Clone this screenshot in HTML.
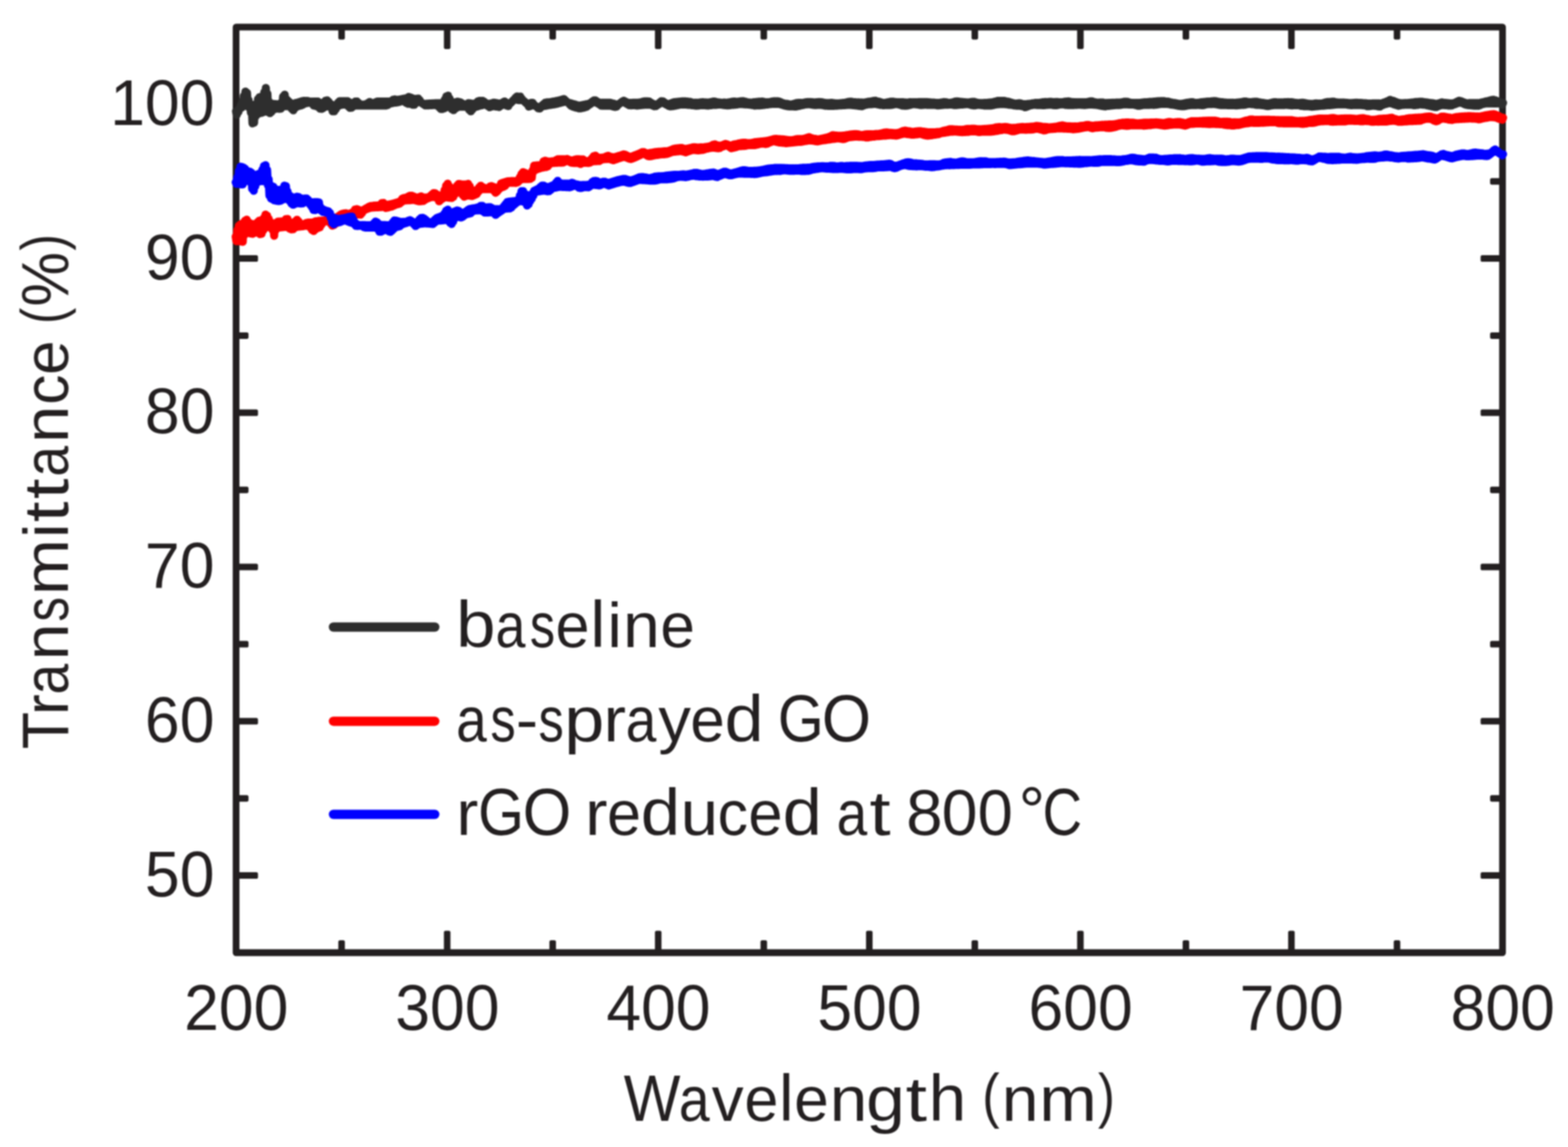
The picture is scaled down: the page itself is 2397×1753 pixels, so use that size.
<!DOCTYPE html>
<html lang="en"><head><meta charset="utf-8">
<title>Transmittance vs wavelength</title>
<style>
html,body{margin:0;padding:0;background:#fff;}
body{width:2397px;height:1753px;overflow:hidden;}
svg{display:block;}
#chart{filter:blur(0.9px);}
text{font-family:"Liberation Sans", sans-serif;font-size:101px;fill:#231f20;white-space:pre;}
</style></head><body>
<svg width="2397" height="1753" viewBox="0 0 2397 1753" role="img" aria-label="Transmittance (%) versus wavelength (nm) for baseline, as-sprayed GO and rGO reduced at 800 °C">
<rect width="2397" height="1753" fill="#fff"/>
<g id="chart">
<g id="ticks" fill="#231f20">
<rect x="517.2" y="41.4" width="10.0" height="19.0" rx="2.6"/>
<rect x="517.2" y="1437.0" width="10.0" height="19.0" rx="2.6"/>
<rect x="678.6" y="41.4" width="10.0" height="33.5" rx="2.6"/>
<rect x="678.6" y="1422.5" width="10.0" height="33.5" rx="2.6"/>
<rect x="839.9" y="41.4" width="10.0" height="19.0" rx="2.6"/>
<rect x="839.9" y="1437.0" width="10.0" height="19.0" rx="2.6"/>
<rect x="1001.2" y="41.4" width="10.0" height="33.5" rx="2.6"/>
<rect x="1001.2" y="1422.5" width="10.0" height="33.5" rx="2.6"/>
<rect x="1162.6" y="41.4" width="10.0" height="19.0" rx="2.6"/>
<rect x="1162.6" y="1437.0" width="10.0" height="19.0" rx="2.6"/>
<rect x="1323.9" y="41.4" width="10.0" height="33.5" rx="2.6"/>
<rect x="1323.9" y="1422.5" width="10.0" height="33.5" rx="2.6"/>
<rect x="1485.2" y="41.4" width="10.0" height="19.0" rx="2.6"/>
<rect x="1485.2" y="1437.0" width="10.0" height="19.0" rx="2.6"/>
<rect x="1646.6" y="41.4" width="10.0" height="33.5" rx="2.6"/>
<rect x="1646.6" y="1422.5" width="10.0" height="33.5" rx="2.6"/>
<rect x="1807.9" y="41.4" width="10.0" height="19.0" rx="2.6"/>
<rect x="1807.9" y="1437.0" width="10.0" height="19.0" rx="2.6"/>
<rect x="1969.2" y="41.4" width="10.0" height="33.5" rx="2.6"/>
<rect x="1969.2" y="1422.5" width="10.0" height="33.5" rx="2.6"/>
<rect x="2130.6" y="41.4" width="10.0" height="19.0" rx="2.6"/>
<rect x="2130.6" y="1437.0" width="10.0" height="19.0" rx="2.6"/>
<rect x="360.9" y="1333.1" width="33.5" height="10.0" rx="2.6"/>
<rect x="2263.4" y="1333.1" width="33.5" height="10.0" rx="2.6"/>
<rect x="360.9" y="1215.2" width="19.0" height="10.0" rx="2.6"/>
<rect x="2277.9" y="1215.2" width="19.0" height="10.0" rx="2.6"/>
<rect x="360.9" y="1097.3" width="33.5" height="10.0" rx="2.6"/>
<rect x="2263.4" y="1097.3" width="33.5" height="10.0" rx="2.6"/>
<rect x="360.9" y="979.5" width="19.0" height="10.0" rx="2.6"/>
<rect x="2277.9" y="979.5" width="19.0" height="10.0" rx="2.6"/>
<rect x="360.9" y="861.6" width="33.5" height="10.0" rx="2.6"/>
<rect x="2263.4" y="861.6" width="33.5" height="10.0" rx="2.6"/>
<rect x="360.9" y="743.7" width="19.0" height="10.0" rx="2.6"/>
<rect x="2277.9" y="743.7" width="19.0" height="10.0" rx="2.6"/>
<rect x="360.9" y="625.8" width="33.5" height="10.0" rx="2.6"/>
<rect x="2263.4" y="625.8" width="33.5" height="10.0" rx="2.6"/>
<rect x="360.9" y="507.9" width="19.0" height="10.0" rx="2.6"/>
<rect x="2277.9" y="507.9" width="19.0" height="10.0" rx="2.6"/>
<rect x="360.9" y="390.1" width="33.5" height="10.0" rx="2.6"/>
<rect x="2263.4" y="390.1" width="33.5" height="10.0" rx="2.6"/>
<rect x="360.9" y="272.2" width="19.0" height="10.0" rx="2.6"/>
<rect x="2277.9" y="272.2" width="19.0" height="10.0" rx="2.6"/>
<rect x="360.9" y="154.3" width="33.5" height="10.0" rx="2.6"/>
<rect x="2263.4" y="154.3" width="33.5" height="10.0" rx="2.6"/>
</g>
<rect id="frame" x="360.9" y="41.4" width="1936.0" height="1414.6" fill="none" stroke="#231f20" stroke-width="10.3" stroke-linejoin="round"/>
<g id="series" fill="none" stroke-width="12.4" stroke-linecap="round" stroke-linejoin="round">
<path id="s-baseline" stroke="#2e2e2e" d="M360.8 170.1L362.0 175.4L363.2 168.9L364.4 171.4L365.6 166.4L366.8 166.1L368.0 160.6L369.2 164.4L370.4 154.6L371.6 162.9L372.8 146.4L374.0 161.6L375.2 139.9L376.4 161.4L377.6 141.9L378.8 162.4L380.0 153.1L381.2 164.9L382.4 159.6L383.6 172.4L384.8 161.4L386.0 188.6L387.2 161.9L388.4 187.6L389.6 161.4L390.8 177.6L392.0 159.1L393.2 175.1L394.4 151.4L395.6 173.4L396.8 148.4L398.0 172.9L399.2 147.9L400.4 172.4L401.6 146.6L402.8 171.4L404.0 140.9L405.2 170.6L406.4 134.4L407.6 170.4L408.8 143.1L410.0 171.4L411.2 155.4L412.4 172.9L413.6 157.9L414.8 170.9L416.0 158.6L417.2 167.9L418.4 158.9L419.6 166.9L420.8 159.1L422.0 166.1L423.2 159.4L424.4 165.9L425.6 159.4L426.8 166.4L428.0 158.6L429.2 166.1L430.4 156.4L431.6 163.4L432.8 147.4L434.0 162.4L435.2 144.6L436.4 162.4L437.6 151.4L438.8 162.4L440.0 153.9L441.2 162.4L442.4 156.1L443.6 163.4L444.8 158.1L446.0 166.4L447.2 158.6L448.4 168.6L449.6 158.1L450.8 165.4L452.0 157.4L453.2 163.1L454.4 156.9L455.6 162.4L456.8 156.1L458.0 161.6L459.2 155.4L460.4 161.1L461.6 154.6L462.8 159.9L464.0 154.1L465.2 158.4L466.4 154.1L467.6 157.9L468.8 154.1L470.0 157.4L471.2 154.4L472.4 157.1L473.6 155.1L474.8 157.4L476.0 155.1L477.2 158.6L478.4 155.1L479.6 161.4L480.8 155.1L482.0 161.9L483.2 155.1L484.4 162.6L485.6 155.1L486.8 163.9L488.0 156.6L489.2 166.1L490.4 157.4L491.6 166.4L492.8 157.4L494.0 165.1L495.2 156.4L496.4 163.6L497.6 153.9L498.8 162.9L500.0 153.4L501.2 162.4L502.4 155.6L503.6 162.9L504.8 158.4L506.0 164.6L507.2 160.1L508.4 170.1L509.6 161.1L510.8 170.1L512.0 160.9L513.2 166.9L514.4 159.9L515.6 163.4L516.8 156.9L518.0 161.4L519.2 154.6L520.4 160.6L521.6 154.6L522.8 160.1L524.0 154.6L525.2 159.9L526.4 154.6L527.6 159.6L528.8 154.6L530.0 160.4L531.2 154.6L532.4 162.6L533.6 156.1L534.8 164.9L536.0 157.4L537.2 164.6L538.4 157.6L539.6 162.9L540.8 156.9L542.0 161.6L543.2 155.1L544.4 161.4L545.6 155.1L546.8 161.4L548.0 157.1L549.2 161.4L550.4 159.1L551.6 161.4L552.8 159.9L554.0 161.4L555.2 159.9L556.4 161.4L557.6 159.6L558.8 161.4L560.0 159.1L561.2 161.4L562.4 157.4L563.6 161.4L564.8 155.9L566.0 161.4L567.2 156.9L568.4 161.4L569.6 157.6L570.8 161.4L572.0 157.4L573.2 161.4L574.4 156.1L575.6 161.4L576.8 155.1L578.0 161.4L579.2 155.1L580.4 161.4L581.6 155.1L582.8 161.4L584.0 155.1L585.2 161.4L586.4 155.1L587.6 161.4L588.8 155.1L590.0 161.4L591.2 155.1L592.4 160.6L593.6 155.1L594.8 159.1L596.0 154.9L597.2 158.1L598.4 154.1L599.6 157.6L600.8 152.4L602.0 157.1L603.2 151.9L604.4 156.9L605.6 152.4L606.8 156.6L608.0 152.4L609.2 156.1L610.4 152.1L611.6 155.4L612.8 151.6L614.0 154.4L615.2 151.1L616.4 154.6L617.6 150.6L618.8 155.6L620.0 150.4L621.2 157.4L622.4 149.6L623.6 158.6L624.8 148.1L626.0 158.6L627.2 148.9L628.4 159.1L629.6 149.9L630.8 160.1L632.0 150.9L633.2 160.1L634.4 151.1L635.6 157.6L636.8 150.9L638.0 156.1L639.2 150.6L640.4 155.6L641.6 152.9L642.8 156.4L644.0 156.4L645.2 157.9L646.4 158.1L647.6 159.6L648.8 158.6L650.0 161.1L651.2 158.6L652.4 161.1L653.6 158.4L654.8 161.1L656.0 158.1L657.2 160.9L658.4 158.1L659.6 160.9L660.8 157.9L662.0 160.6L663.2 157.9L664.4 160.6L665.6 157.6L666.8 160.9L668.0 157.6L669.2 161.6L670.4 157.6L671.6 164.1L672.8 157.6L674.0 166.6L675.2 157.4L676.4 166.6L677.6 156.1L678.8 165.6L680.0 152.1L681.2 164.4L682.4 147.1L683.6 163.4L684.8 146.1L686.0 163.4L687.2 150.6L688.4 164.1L689.6 154.9L690.8 166.9L692.0 156.4L693.2 168.4L694.4 156.9L695.6 166.4L696.8 156.1L698.0 164.6L699.2 155.4L700.4 163.4L701.6 155.9L702.8 163.1L704.0 156.6L705.2 163.1L706.4 158.1L707.6 163.1L708.8 159.6L710.0 163.1L711.2 159.9L712.4 163.4L713.6 159.1L714.8 164.6L716.0 157.6L717.2 167.9L718.4 157.9L719.6 170.1L720.8 158.4L722.0 167.4L723.2 158.6L724.4 164.9L725.6 158.4L726.8 163.4L728.0 157.1L729.2 162.9L730.4 154.9L731.6 162.1L732.8 154.1L734.0 161.4L735.2 154.1L736.4 160.9L737.6 154.1L738.8 160.1L740.0 155.4L741.2 159.9L742.4 157.1L743.6 160.6L744.8 158.4L746.0 162.4L747.2 158.9L748.4 163.9L749.6 158.4L750.8 163.1L752.0 157.6L753.2 162.4L754.4 156.9L755.6 162.4L756.8 157.1L758.0 162.9L759.2 157.6L760.4 163.1L761.6 158.1L762.8 163.6L764.0 158.4L765.2 162.1L766.4 157.9L767.6 160.6L768.8 156.4L770.0 159.9L771.2 155.1L772.4 160.1L773.6 156.4L774.8 161.4L776.0 157.6L777.2 162.1L778.4 158.6L779.6 158.1L780.8 157.4L782.0 156.1L783.2 154.9L784.4 153.5L785.6 152.4L786.8 151.6L788.0 149.4L789.2 151.9L790.4 147.4L791.6 152.9L792.8 147.9L794.0 153.1L795.2 147.6L796.4 152.9L797.6 150.9L798.8 153.1L800.0 153.9L801.2 154.6L802.4 155.8L803.6 156.9L804.8 157.9L806.0 158.9L807.2 159.1L808.4 162.9L809.6 158.1L810.8 162.1L812.0 157.1L813.2 161.1L814.4 157.1L815.6 160.4L816.8 160.6L818.0 161.6L819.2 162.4L820.4 163.1L821.6 164.1L822.8 165.6L824.0 164.1L825.2 165.9L826.4 162.9L827.6 163.9L828.8 160.9L830.0 162.4L831.2 158.9L832.4 161.9L833.6 156.9L834.8 161.6L836.0 156.4L837.2 161.1L838.4 156.4L839.6 160.6L840.8 156.1L842.0 160.4L843.2 155.6L844.4 159.9L845.6 155.1L846.8 159.6L848.0 154.9L849.2 159.1L850.4 154.4L851.6 158.6L852.8 153.9L854.0 157.9L855.2 153.4L856.4 157.4L857.6 152.6L858.8 156.6L860.0 151.9L861.2 156.1L862.4 151.4L863.6 155.4L864.8 153.9L866.0 155.9L867.2 155.9L868.4 157.1L869.6 157.1L870.8 159.6L872.0 157.6L873.2 161.9L874.4 158.4L875.6 162.9L876.8 159.1L878.0 163.6L879.2 159.6L880.4 164.4L881.6 160.4L882.8 164.9L884.0 161.1L885.2 165.6L886.4 161.4L887.6 165.6L888.8 160.9L890.0 165.1L891.2 160.4L892.4 164.6L893.6 159.9L894.8 163.9L896.0 159.4L897.2 163.1L898.4 158.9L899.6 161.1L900.8 158.1L902.0 159.4L903.2 156.9L904.4 157.9L905.6 155.1L906.8 156.6L908.0 153.4L909.2 156.1L910.4 153.4L911.6 156.6L912.8 155.1L914.0 158.1L915.2 156.4L916.4 159.6L917.6 156.9L918.8 161.4L920.0 156.9L921.2 161.6L922.4 156.9L923.6 161.6L924.8 156.9L926.0 161.6L927.2 156.9L928.4 161.6L929.6 156.9L930.8 161.6L932.0 156.9L933.2 161.6L934.4 157.4L935.6 162.1L936.8 158.1L938.0 162.9L939.2 158.6L940.4 163.4L941.6 159.4L942.8 162.9L944.0 159.9L945.2 160.1L946.4 159.1L947.6 158.1L948.8 157.1L950.0 156.4L951.2 155.1L952.4 156.1L953.6 153.9L954.8 156.9L956.0 155.1L957.2 158.1L958.4 156.4L959.6 159.6L960.8 157.4L962.0 160.9L963.2 157.1L964.4 161.1L965.6 157.1L966.8 160.9L968.0 156.9L969.2 160.9L970.4 156.9L971.6 161.1L972.8 156.9L974.0 161.4L975.2 156.9L976.4 161.1L977.6 156.6L978.8 160.9L980.0 156.1L981.2 160.6L982.4 155.4L983.6 160.4L984.8 154.9L986.0 160.1L987.2 154.9L988.4 160.1L989.6 154.9L990.8 160.1L992.0 155.1L993.2 160.1L994.4 156.4L995.6 160.6L996.8 157.9L998.0 161.6L999.2 158.9L1000.4 162.4L1001.6 159.6L1002.8 162.1L1004.0 159.6L1005.2 160.6L1006.4 158.6L1007.6 158.9L1008.8 156.4L1010.0 157.4L1011.2 154.6L1012.4 157.1L1013.6 154.9L1014.8 157.9L1016.0 156.6L1017.2 159.1L1018.4 158.1L1019.6 160.4L1020.8 158.9L1022.0 161.9L1023.2 158.6L1024.4 162.6L1025.6 157.9L1026.8 162.4L1028.0 156.9L1029.2 162.1L1030.4 156.1L1031.6 161.6L1032.8 155.9L1034.0 161.1L1035.2 155.6L1036.4 160.6L1037.6 155.4L1038.8 160.1L1040.0 155.1L1041.2 159.9L1042.4 154.9L1043.6 159.9L1044.8 154.9L1046.0 159.9L1047.2 154.9L1048.4 159.9L1049.6 155.1L1050.8 160.1L1052.0 155.4L1053.2 160.4L1054.4 155.6L1055.6 160.4L1056.8 156.1L1058.0 160.9L1059.2 156.9L1060.4 161.1L1061.6 156.9L1062.8 161.4L1064.0 156.9L1065.2 161.6L1066.4 156.9L1067.6 161.4L1068.8 156.9L1070.0 160.9L1071.2 156.4L1072.4 160.9L1073.6 156.1L1074.8 160.9L1076.0 156.4L1077.2 160.9L1078.4 156.4L1079.6 161.1L1080.8 156.6L1082.0 161.4L1083.2 156.6L1084.4 161.1L1085.6 156.1L1086.8 160.9L1088.0 155.6L1089.2 160.4L1090.4 155.1L1091.6 160.4L1092.8 155.4L1094.0 160.4L1095.2 155.9L1096.4 160.1L1097.6 156.4L1098.8 159.9L1100.0 156.6L1101.2 159.9L1102.4 156.9L1103.6 160.1L1104.8 156.9L1106.0 160.6L1107.2 156.6L1108.4 160.9L1109.6 156.9L1110.8 161.1L1112.0 156.9L1113.2 161.1L1114.4 156.4L1115.6 160.9L1116.8 155.9L1118.0 160.4L1119.2 155.4L1120.4 160.4L1121.6 155.1L1122.8 160.1L1124.0 155.4L1125.2 159.9L1126.4 155.4L1127.6 159.6L1128.8 155.4L1130.0 159.1L1131.2 154.9L1132.4 159.1L1133.6 154.6L1134.8 159.1L1136.0 154.6L1137.2 159.4L1138.4 155.1L1139.6 159.6L1140.8 155.6L1142.0 159.6L1143.2 156.4L1144.4 159.9L1145.6 156.6L1146.8 160.1L1148.0 156.9L1149.2 160.6L1150.4 156.6L1151.6 160.9L1152.8 156.1L1154.0 161.4L1155.2 155.9L1156.4 161.1L1157.6 155.6L1158.8 161.1L1160.0 155.4L1161.2 161.1L1162.4 155.4L1163.6 160.9L1164.8 155.1L1166.0 160.6L1167.2 155.6L1168.4 160.4L1169.6 156.1L1170.8 159.9L1172.0 156.1L1173.2 159.9L1174.4 156.1L1175.6 159.4L1176.8 155.9L1178.0 159.1L1179.2 155.4L1180.4 158.9L1181.6 154.9L1182.8 158.9L1184.0 154.6L1185.2 158.9L1186.4 154.6L1187.6 158.9L1188.8 154.6L1190.0 158.9L1191.2 155.1L1192.4 159.4L1193.6 156.1L1194.8 159.9L1196.0 157.1L1197.2 160.6L1198.4 157.9L1199.6 161.4L1200.8 158.4L1202.0 161.9L1203.2 158.6L1204.4 162.4L1205.6 159.1L1206.8 162.6L1208.0 159.6L1209.2 162.6L1210.4 159.4L1211.6 162.6L1212.8 158.9L1214.0 162.9L1215.2 158.1L1216.4 162.9L1217.6 157.4L1218.8 162.4L1220.0 157.1L1221.2 161.9L1222.4 157.1L1223.6 161.4L1224.8 157.1L1226.0 160.9L1227.2 157.1L1228.4 160.4L1229.6 156.6L1230.8 159.6L1232.0 156.1L1233.2 159.6L1234.4 155.9L1235.6 159.4L1236.8 155.9L1238.0 159.6L1239.2 155.9L1240.4 159.9L1241.6 156.1L1242.8 160.4L1244.0 156.4L1245.2 160.6L1246.4 156.4L1247.6 160.6L1248.8 156.1L1250.0 160.4L1251.2 155.9L1252.4 160.4L1253.6 155.9L1254.8 160.4L1256.0 156.1L1257.2 160.6L1258.4 156.6L1259.6 161.1L1260.8 157.1L1262.0 161.6L1263.2 157.4L1264.4 161.6L1265.6 157.4L1266.8 161.9L1268.0 157.4L1269.2 161.9L1270.4 157.1L1271.6 161.9L1272.8 157.4L1274.0 161.9L1275.2 157.6L1276.4 161.6L1277.6 157.9L1278.8 161.6L1280.0 157.9L1281.2 161.4L1282.4 157.9L1283.6 161.1L1284.8 157.6L1286.0 161.1L1287.2 157.4L1288.4 160.9L1289.6 157.1L1290.8 160.9L1292.0 156.9L1293.2 160.6L1294.4 156.4L1295.6 160.4L1296.8 155.6L1298.0 160.4L1299.2 155.4L1300.4 160.4L1301.6 155.6L1302.8 160.6L1304.0 155.9L1305.2 160.9L1306.4 156.1L1307.6 161.1L1308.8 156.4L1310.0 161.4L1311.2 156.4L1312.4 161.9L1313.6 156.6L1314.8 162.1L1316.0 156.6L1317.2 162.4L1318.4 156.9L1319.6 161.6L1320.8 156.6L1322.0 160.6L1323.2 156.4L1324.4 160.1L1325.6 155.9L1326.8 159.6L1328.0 155.4L1329.2 159.4L1330.5 155.1L1331.7 159.4L1332.9 154.6L1334.1 159.1L1335.3 154.1L1336.5 158.9L1337.7 153.9L1338.9 158.6L1340.1 154.6L1341.3 159.4L1342.5 155.1L1343.7 159.9L1344.9 155.6L1346.1 160.4L1347.3 156.4L1348.5 160.6L1349.7 157.1L1350.9 160.9L1352.1 157.1L1353.3 160.6L1354.5 156.9L1355.7 160.6L1356.9 156.4L1358.1 160.6L1359.3 155.9L1360.5 160.6L1361.7 155.4L1362.9 160.4L1364.1 155.4L1365.3 159.9L1366.5 155.6L1367.7 159.4L1368.9 155.9L1370.1 159.1L1371.3 156.1L1372.5 159.4L1373.7 156.1L1374.9 159.9L1376.1 156.1L1377.3 160.6L1378.5 156.1L1379.7 161.4L1380.9 156.4L1382.1 161.6L1383.3 156.6L1384.5 161.6L1385.7 156.9L1386.9 161.4L1388.1 156.6L1389.3 160.9L1390.5 156.1L1391.7 160.4L1392.9 156.1L1394.1 159.6L1395.3 156.1L1396.5 159.1L1397.7 156.1L1398.9 159.4L1400.1 156.1L1401.3 159.6L1402.5 156.1L1403.7 159.9L1404.9 155.9L1406.1 160.4L1407.3 155.9L1408.5 160.6L1409.7 155.9L1410.9 160.4L1412.1 155.9L1413.3 160.1L1414.5 155.9L1415.7 160.1L1416.9 155.9L1418.1 160.4L1419.3 156.1L1420.5 160.4L1421.7 156.4L1422.9 160.4L1424.1 156.6L1425.3 160.4L1426.5 156.6L1427.7 160.4L1428.9 156.9L1430.1 160.6L1431.3 157.1L1432.5 161.1L1433.7 157.1L1434.9 161.1L1436.1 157.1L1437.3 160.9L1438.5 156.6L1439.7 160.6L1440.9 156.4L1442.1 160.4L1443.3 155.9L1444.5 160.1L1445.7 156.1L1446.9 160.1L1448.1 156.6L1449.3 160.1L1450.5 157.1L1451.7 159.9L1452.9 156.9L1454.1 159.9L1455.3 156.6L1456.5 160.1L1457.7 155.9L1458.9 160.6L1460.1 155.1L1461.3 160.6L1462.5 154.9L1463.7 160.4L1464.9 155.1L1466.1 160.1L1467.3 155.6L1468.5 159.9L1469.7 155.6L1470.9 159.9L1472.1 155.9L1473.3 159.6L1474.5 156.1L1475.7 159.4L1476.9 156.4L1478.1 159.1L1479.3 156.4L1480.5 159.4L1481.7 156.4L1482.9 159.9L1484.1 155.9L1485.3 160.6L1486.5 155.6L1487.7 161.1L1488.9 155.6L1490.1 161.1L1491.3 156.4L1492.5 160.6L1493.7 156.9L1494.9 160.4L1496.1 157.4L1497.3 160.4L1498.5 157.4L1499.7 160.6L1500.9 157.4L1502.1 160.9L1503.3 157.4L1504.5 161.4L1505.7 157.1L1506.9 161.4L1508.1 157.1L1509.3 161.4L1510.5 156.9L1511.7 161.4L1512.9 156.6L1514.1 161.4L1515.3 156.4L1516.5 161.1L1517.7 156.1L1518.9 160.6L1520.1 155.4L1521.3 159.9L1522.5 154.9L1523.7 159.6L1524.9 154.1L1526.1 159.4L1527.3 154.1L1528.5 159.1L1529.7 154.1L1530.9 159.1L1532.1 154.1L1533.3 159.1L1534.5 154.1L1535.7 159.1L1536.9 154.6L1538.1 159.4L1539.3 155.1L1540.5 159.6L1541.7 155.4L1542.9 160.1L1544.1 156.1L1545.3 160.4L1546.5 156.9L1547.7 160.6L1548.9 157.6L1550.1 161.1L1551.3 158.1L1552.5 161.4L1553.7 158.1L1554.9 161.6L1556.1 157.9L1557.3 161.6L1558.5 157.6L1559.7 161.9L1560.9 158.1L1562.1 162.4L1563.3 158.9L1564.5 162.9L1565.7 159.1L1566.9 163.9L1568.1 159.1L1569.3 163.4L1570.5 158.9L1571.7 162.4L1572.9 158.6L1574.1 161.4L1575.3 158.4L1576.5 160.9L1577.7 157.9L1578.9 160.4L1580.1 157.6L1581.3 160.1L1582.5 157.1L1583.7 160.4L1584.9 157.1L1586.1 160.6L1587.3 157.1L1588.5 160.6L1589.7 156.9L1590.9 160.6L1592.1 156.6L1593.3 160.9L1594.5 156.1L1595.7 160.9L1596.9 155.9L1598.1 160.6L1599.3 155.9L1600.5 160.4L1601.7 155.9L1602.9 160.1L1604.1 155.6L1605.3 160.1L1606.5 155.6L1607.7 160.1L1608.9 155.9L1610.1 160.6L1611.3 155.9L1612.5 160.9L1613.7 155.9L1614.9 160.9L1616.1 155.9L1617.3 160.4L1618.5 156.1L1619.7 159.9L1620.9 156.1L1622.1 159.6L1623.3 156.1L1624.5 159.6L1625.7 155.9L1626.9 159.9L1628.1 155.4L1629.3 160.4L1630.5 155.1L1631.7 160.6L1632.9 154.9L1634.1 160.6L1635.3 155.4L1636.5 160.6L1637.7 155.9L1638.9 160.6L1640.1 155.9L1641.3 160.6L1642.5 156.1L1643.7 160.4L1644.9 156.1L1646.1 160.4L1647.3 156.1L1648.5 160.1L1649.7 156.1L1650.9 160.1L1652.1 156.1L1653.3 160.4L1654.5 156.1L1655.7 160.4L1656.9 156.1L1658.1 160.6L1659.3 156.1L1660.5 160.4L1661.7 156.1L1662.9 160.1L1664.1 155.4L1665.3 159.9L1666.5 154.9L1667.7 159.9L1668.9 154.9L1670.1 159.9L1671.3 155.4L1672.5 160.1L1673.7 156.1L1674.9 160.4L1676.1 156.6L1677.3 160.6L1678.5 156.9L1679.7 161.1L1680.9 156.6L1682.1 161.4L1683.3 156.6L1684.5 161.9L1685.7 156.6L1686.9 162.4L1688.1 157.4L1689.3 162.6L1690.5 157.4L1691.7 162.1L1692.9 157.4L1694.1 161.9L1695.3 157.1L1696.5 161.6L1697.7 157.1L1698.9 161.4L1700.1 156.9L1701.3 161.1L1702.5 156.9L1703.7 160.9L1704.9 156.9L1706.1 160.6L1707.3 156.6L1708.5 160.6L1709.7 156.6L1710.9 160.6L1712.1 156.6L1713.3 160.4L1714.5 156.4L1715.7 159.9L1716.9 155.9L1718.1 159.6L1719.3 155.4L1720.5 159.6L1721.7 155.4L1722.9 159.6L1724.1 155.6L1725.3 159.9L1726.5 156.4L1727.7 159.9L1728.9 156.9L1730.1 159.9L1731.3 157.1L1732.5 159.9L1733.7 157.1L1734.9 160.4L1736.1 157.1L1737.3 161.1L1738.5 157.1L1739.7 161.6L1740.9 157.1L1742.1 161.6L1743.3 157.1L1744.5 161.1L1745.7 156.6L1746.9 160.6L1748.1 156.4L1749.3 160.4L1750.5 156.1L1751.7 160.4L1752.9 156.1L1754.1 160.4L1755.3 155.9L1756.5 160.4L1757.7 155.6L1758.9 160.1L1760.1 155.6L1761.3 160.1L1762.5 155.4L1763.7 160.4L1764.9 155.1L1766.1 160.1L1767.3 154.9L1768.5 159.9L1769.7 154.6L1770.9 159.4L1772.1 154.6L1773.3 159.1L1774.5 154.4L1775.7 158.9L1776.9 154.4L1778.1 158.9L1779.3 154.4L1780.5 158.9L1781.7 154.9L1782.9 158.9L1784.1 155.1L1785.3 159.1L1786.5 155.4L1787.7 159.4L1788.9 156.1L1790.1 159.9L1791.3 156.6L1792.5 160.1L1793.7 157.1L1794.9 160.4L1796.1 157.4L1797.3 160.9L1798.5 157.9L1799.7 161.4L1800.9 158.4L1802.1 161.9L1803.3 158.6L1804.5 162.1L1805.7 158.6L1806.9 162.4L1808.1 158.4L1809.3 162.4L1810.5 157.9L1811.7 162.1L1812.9 157.4L1814.1 161.6L1815.3 156.9L1816.5 161.1L1817.7 156.6L1818.9 160.9L1820.1 156.1L1821.3 160.6L1822.5 156.1L1823.7 160.6L1824.9 156.6L1826.1 160.6L1827.3 157.1L1828.5 160.6L1829.7 157.1L1830.9 160.4L1832.1 156.9L1833.3 160.6L1834.5 156.6L1835.7 160.6L1836.9 156.1L1838.1 160.9L1839.3 155.9L1840.5 160.6L1841.7 155.6L1842.9 159.9L1844.1 155.4L1845.3 159.4L1846.5 155.1L1847.7 159.1L1848.9 155.1L1850.1 159.1L1851.3 154.9L1852.5 159.1L1853.7 154.6L1854.9 158.9L1856.1 154.4L1857.3 159.1L1858.5 154.6L1859.7 159.4L1860.9 155.1L1862.1 159.9L1863.3 155.6L1864.5 160.4L1865.7 155.9L1866.9 160.6L1868.1 156.1L1869.3 160.6L1870.5 156.4L1871.7 160.6L1872.9 156.6L1874.1 160.6L1875.3 156.9L1876.5 160.9L1877.7 156.9L1878.9 160.9L1880.1 156.9L1881.3 160.9L1882.5 156.9L1883.7 160.9L1884.9 156.9L1886.1 160.9L1887.3 157.1L1888.5 161.1L1889.7 156.9L1890.9 161.1L1892.1 156.6L1893.3 160.9L1894.5 156.4L1895.7 160.6L1896.9 156.1L1898.1 160.4L1899.3 155.6L1900.5 160.4L1901.7 155.1L1902.9 160.1L1904.1 155.1L1905.3 159.6L1906.5 155.6L1907.7 159.1L1908.9 155.9L1910.1 158.9L1911.3 156.1L1912.5 159.1L1913.7 155.9L1914.9 159.4L1916.1 155.6L1917.3 159.6L1918.5 155.4L1919.7 160.1L1920.9 155.4L1922.1 160.4L1923.3 155.9L1924.5 160.4L1925.7 156.4L1926.9 160.6L1928.1 156.9L1929.3 160.9L1930.5 157.1L1931.7 161.1L1932.9 157.6L1934.1 161.6L1935.3 157.9L1936.5 162.1L1937.7 158.1L1938.9 162.1L1940.1 157.9L1941.3 161.6L1942.5 157.4L1943.7 161.1L1944.9 156.6L1946.1 160.9L1947.3 156.1L1948.5 160.6L1949.7 156.1L1950.9 160.6L1952.1 156.4L1953.3 160.6L1954.5 156.4L1955.7 160.6L1956.9 156.4L1958.1 160.6L1959.3 156.4L1960.5 160.6L1961.7 156.4L1962.9 160.6L1964.1 156.1L1965.3 160.4L1966.5 156.1L1967.7 160.4L1968.9 155.9L1970.1 160.6L1971.3 156.1L1972.5 160.9L1973.7 156.1L1974.9 161.1L1976.1 156.4L1977.3 160.9L1978.5 156.9L1979.7 160.9L1980.9 157.1L1982.1 160.9L1983.3 157.4L1984.5 160.9L1985.7 157.4L1986.9 161.4L1988.1 157.1L1989.3 161.9L1990.5 156.9L1991.7 162.1L1992.9 157.1L1994.1 162.4L1995.3 157.6L1996.5 162.4L1997.7 158.1L1998.9 162.4L2000.1 158.4L2001.3 162.6L2002.5 158.6L2003.7 162.9L2004.9 158.6L2006.1 163.1L2007.3 158.6L2008.5 162.9L2009.7 158.1L2010.9 162.6L2012.1 157.9L2013.3 162.4L2014.5 158.1L2015.7 162.1L2016.9 158.1L2018.1 161.9L2019.3 158.1L2020.5 161.6L2021.7 157.9L2022.9 161.6L2024.1 157.1L2025.3 161.4L2026.5 156.4L2027.7 161.1L2028.9 155.9L2030.1 160.9L2031.3 155.9L2032.5 160.9L2033.7 155.6L2034.9 160.6L2036.1 155.4L2037.3 160.4L2038.5 155.4L2039.7 160.1L2040.9 155.9L2042.1 159.9L2043.3 156.4L2044.5 159.6L2045.7 156.6L2046.9 159.6L2048.1 156.6L2049.3 159.6L2050.5 156.6L2051.7 159.6L2052.9 156.6L2054.1 159.6L2055.3 156.9L2056.5 159.6L2057.7 156.9L2058.9 159.9L2060.1 157.1L2061.3 160.4L2062.5 157.4L2063.7 160.6L2064.9 157.4L2066.1 160.9L2067.3 157.4L2068.5 160.6L2069.7 157.1L2070.9 160.6L2072.1 156.9L2073.3 160.6L2074.5 156.9L2075.7 160.6L2076.9 157.1L2078.1 160.6L2079.3 157.1L2080.5 160.6L2081.7 157.4L2082.9 160.9L2084.1 157.6L2085.3 161.1L2086.5 157.6L2087.7 161.6L2088.9 157.9L2090.1 162.4L2091.3 158.1L2092.5 162.4L2093.7 158.1L2094.9 162.1L2096.1 158.1L2097.3 161.6L2098.5 157.9L2099.7 161.6L2100.9 157.9L2102.1 161.9L2103.3 157.9L2104.5 162.1L2105.7 157.9L2106.9 162.6L2108.1 157.9L2109.3 162.9L2110.5 158.1L2111.7 161.6L2112.9 157.6L2114.1 160.6L2115.3 156.6L2116.5 159.6L2117.7 155.9L2118.9 158.9L2120.1 154.9L2121.3 158.1L2122.5 153.9L2123.7 157.6L2124.9 152.6L2126.1 157.9L2127.3 153.4L2128.5 158.6L2129.7 154.1L2130.9 159.6L2132.1 155.1L2133.3 160.1L2134.5 155.9L2135.7 160.9L2136.9 156.9L2138.1 161.6L2139.3 157.4L2140.5 161.1L2141.7 157.6L2142.9 160.6L2144.1 157.6L2145.3 160.4L2146.5 157.6L2147.7 160.1L2148.9 157.4L2150.1 160.1L2151.3 157.4L2152.5 160.1L2153.7 157.1L2154.9 160.1L2156.1 156.9L2157.3 160.1L2158.5 156.6L2159.7 160.6L2160.9 156.4L2162.1 160.9L2163.3 155.9L2164.5 160.6L2165.7 155.9L2166.9 160.4L2168.1 155.6L2169.3 159.9L2170.5 155.4L2171.7 159.6L2172.9 155.4L2174.1 159.9L2175.3 155.6L2176.5 160.1L2177.7 156.1L2178.9 160.4L2180.1 156.4L2181.3 160.9L2182.5 156.6L2183.7 161.4L2184.9 157.1L2186.1 161.9L2187.3 157.4L2188.5 162.6L2189.7 157.6L2190.9 163.1L2192.1 158.1L2193.3 163.6L2194.5 158.6L2195.7 163.6L2196.9 158.6L2198.1 162.6L2199.3 157.9L2200.5 161.6L2201.7 157.1L2202.9 160.9L2204.1 156.4L2205.3 160.6L2206.5 156.9L2207.7 160.6L2208.9 157.1L2210.1 160.9L2211.3 157.4L2212.5 161.1L2213.7 157.6L2214.9 161.4L2216.1 157.9L2217.3 161.4L2218.5 157.9L2219.7 161.1L2220.9 157.9L2222.1 160.1L2223.3 157.1L2224.5 159.1L2225.7 156.1L2226.9 158.1L2228.1 154.9L2229.3 157.4L2230.5 153.9L2231.7 156.9L2232.9 154.4L2234.1 157.1L2235.3 155.4L2236.5 158.1L2237.7 156.4L2238.9 159.4L2240.1 157.4L2241.3 160.1L2242.5 157.6L2243.7 160.6L2244.9 157.6L2246.1 160.9L2247.3 157.4L2248.5 161.1L2249.7 157.4L2250.9 161.4L2252.1 157.4L2253.3 161.6L2254.5 157.4L2255.7 161.6L2256.9 157.4L2258.1 161.6L2259.3 157.4L2260.5 161.6L2261.7 157.4L2262.9 160.6L2264.1 156.6L2265.3 159.6L2266.5 156.1L2267.7 158.9L2268.9 155.6L2270.1 158.1L2271.3 154.9L2272.5 157.9L2273.7 154.6L2274.9 157.9L2276.1 153.9L2277.3 157.9L2278.5 153.4L2279.7 157.6L2280.9 152.6L2282.1 156.9L2283.3 152.4L2284.5 156.1L2285.7 153.1L2286.9 156.1L2288.1 154.1L2289.3 156.9L2290.5 154.9L2291.7 157.9L2292.9 155.9L2294.1 158.9L2295.3 156.9L2296.5 159.9L2297.7 157.1"/>
<path id="s-go" stroke="#ff0000" d="M360.3 361.6L361.5 368.6L362.7 351.4L363.9 368.6L365.1 344.9L366.3 368.6L367.5 342.9L368.7 369.1L369.9 341.9L371.1 369.6L372.3 340.1L373.5 359.4L374.7 337.1L375.9 356.9L377.1 335.6L378.3 355.9L379.5 339.4L380.7 356.1L381.9 341.1L383.1 356.9L384.3 342.1L385.5 357.4L386.7 342.6L387.9 356.4L389.1 342.6L390.3 355.4L391.5 341.6L392.7 355.1L393.9 339.4L395.1 356.1L396.3 337.1L397.5 357.9L398.7 336.6L399.9 357.4L401.1 335.6L402.3 351.9L403.5 332.9L404.7 348.9L405.9 327.9L407.1 347.9L408.3 329.9L409.5 347.1L410.7 334.4L411.9 347.1L413.1 339.1L414.3 348.1L415.5 341.4L416.7 351.4L417.9 341.9L419.1 360.4L420.3 341.4L421.5 351.4L422.7 340.1L423.9 348.9L425.1 338.6L426.3 347.9L427.5 338.6L428.7 347.6L429.9 338.4L431.1 347.4L432.3 338.4L433.5 347.1L434.7 337.6L435.9 346.9L437.1 334.9L438.3 347.1L439.5 334.6L440.7 347.9L441.9 338.9L443.1 349.6L444.3 340.4L445.5 350.6L446.7 340.9L447.9 350.4L449.2 340.1L450.4 348.4L451.6 338.1L452.8 347.1L454.0 335.9L455.2 346.6L456.4 338.4L457.6 346.4L458.8 341.6L460.0 346.1L461.2 342.6L462.4 345.9L463.6 342.6L464.8 345.4L466.0 341.9L467.2 345.1L468.4 340.6L469.6 345.1L470.8 340.1L472.0 345.9L473.2 340.1L474.4 348.1L475.6 340.1L476.8 351.4L478.0 340.1L479.2 353.1L480.4 339.1L481.6 350.9L482.8 338.1L484.0 349.1L485.2 337.9L486.4 348.4L487.6 337.4L488.8 347.4L490.0 337.4L491.2 343.6L492.4 337.1L493.6 340.6L494.8 336.9L496.0 339.1L497.2 336.6L498.4 338.1L499.6 336.4L500.8 338.1L502.0 335.9L503.2 338.9L504.4 335.1L505.6 341.9L506.8 334.4L508.0 344.9L509.2 333.6L510.4 343.9L511.6 332.9L512.8 342.1L514.0 332.1L515.2 340.6L516.4 331.1L517.6 338.9L518.8 329.4L520.0 337.1L521.2 327.6L522.4 335.1L523.6 326.6L524.8 333.4L526.0 326.1L527.2 331.6L528.4 325.9L529.6 329.6L530.8 326.4L532.0 327.9L533.2 327.1L534.4 326.6L535.6 326.4L536.8 325.6L538.0 325.1L539.2 324.4L540.4 323.9L541.6 323.6L542.8 320.1L544.0 324.6L545.2 319.6L546.4 326.4L547.6 320.4L548.8 327.9L550.0 321.6L551.2 328.1L552.4 321.9L553.6 325.4L554.8 321.1L556.0 322.1L557.2 319.9L558.4 320.6L559.6 318.4L560.8 319.6L562.0 317.1L563.2 318.6L564.4 315.6L565.6 317.6L566.8 314.9L568.0 317.4L569.2 314.6L570.4 317.1L571.6 314.1L572.8 317.1L574.0 314.1L575.2 316.9L576.4 313.9L577.6 316.9L578.8 313.9L580.0 316.6L581.2 313.1L582.4 316.6L583.6 310.4L584.8 316.4L586.0 310.1L587.2 316.6L588.4 311.9L589.6 317.9L590.8 312.9L592.0 317.4L593.2 312.6L594.4 316.9L595.6 312.4L596.8 316.1L598.0 311.9L599.2 315.6L600.4 311.4L601.6 314.4L602.8 310.6L604.0 313.4L605.2 309.9L606.4 312.4L607.6 309.1L608.8 311.9L610.0 308.4L611.2 311.1L612.4 306.9L613.6 309.1L614.8 303.6L616.0 307.4L617.2 302.6L618.4 306.4L619.6 302.1L620.8 306.4L622.0 301.6L623.2 306.1L624.4 300.1L625.6 306.1L626.8 299.1L628.0 305.9L629.2 299.1L630.4 305.6L631.6 300.1L632.8 305.6L634.0 301.1L635.2 306.1L636.4 301.9L637.6 306.9L638.8 301.6L640.0 307.6L641.2 301.1L642.4 307.6L643.6 300.1L644.8 307.4L646.0 301.4L647.2 307.1L648.4 301.9L649.6 305.6L650.8 301.9L652.0 304.1L653.2 301.6L654.4 303.1L655.6 301.1L656.8 302.1L658.0 299.4L659.2 301.4L660.4 297.1L661.6 301.1L662.8 295.1L664.0 301.4L665.2 295.4L666.4 301.9L667.6 297.1L668.8 303.6L670.0 298.6L671.2 307.6L672.4 299.1L673.6 305.6L674.8 298.6L676.0 303.9L677.2 296.9L678.4 302.4L679.6 290.6L680.8 301.6L682.0 283.6L683.2 301.6L684.4 280.6L685.6 302.1L686.8 284.6L688.0 302.4L689.2 287.1L690.4 302.6L691.6 288.1L692.8 300.9L694.0 287.9L695.2 296.9L696.4 286.9L697.6 294.1L698.8 283.6L700.0 293.4L701.2 281.1L702.4 293.6L703.6 281.4L704.8 295.1L706.0 281.9L707.2 298.1L708.4 281.9L709.6 300.6L710.8 281.9L712.0 299.6L713.2 281.6L714.4 298.9L715.6 280.9L716.8 298.9L718.0 284.6L719.2 299.4L720.4 289.6L721.6 299.6L722.8 291.4L724.0 298.6L725.2 291.9L726.4 297.6L727.6 291.4L728.8 296.6L730.0 289.4L731.2 293.1L732.4 286.4L733.6 290.4L734.8 283.9L736.0 289.4L737.2 285.4L738.4 289.1L739.6 286.6L740.8 289.1L742.0 287.6L743.2 289.1L744.4 287.9L745.6 289.1L746.8 286.9L748.0 289.1L749.2 284.9L750.4 289.1L751.6 284.4L752.8 289.9L754.0 285.4L755.2 291.9L756.4 286.4L757.6 294.6L758.8 286.9L760.0 292.6L761.2 286.4L762.4 289.9L763.6 284.9L764.8 287.4L766.0 280.4L767.2 286.4L768.4 279.4L769.6 285.4L770.8 278.6L772.0 284.1L773.2 277.9L774.4 281.4L775.6 277.1L776.8 279.6L778.0 276.9L779.2 279.1L780.4 276.9L781.6 279.4L782.8 276.6L784.0 279.4L785.2 276.6L786.4 279.4L787.6 276.6L788.8 279.6L790.0 276.1L791.2 278.6L792.4 274.6L793.6 276.6L794.8 270.6L796.0 274.6L797.2 265.9L798.4 273.9L799.6 263.1L800.9 273.6L802.1 264.1L803.3 273.6L804.5 265.1L805.7 273.6L806.9 265.9L808.1 273.6L809.3 265.6L810.5 273.4L811.7 264.6L812.9 271.9L814.1 260.6L815.3 262.6L816.5 253.1L817.7 260.1L818.9 252.9L820.1 259.1L821.3 252.6L822.5 258.1L823.7 252.6L824.9 257.4L826.1 252.1L827.3 256.6L828.5 250.9L829.7 256.1L830.9 246.6L832.1 255.6L833.3 245.6L834.5 255.4L835.7 246.4L836.9 254.4L838.1 246.9L839.3 251.9L840.5 246.9L841.7 249.9L842.9 246.6L844.1 249.1L845.3 246.4L846.5 249.1L847.7 245.9L848.9 248.9L850.1 244.6L851.3 248.9L852.5 243.4L853.7 248.6L854.9 243.4L856.1 248.6L857.3 243.4L858.5 248.6L859.7 243.4L860.9 248.4L862.1 243.4L863.3 247.4L864.5 243.4L865.7 246.4L866.9 242.9L868.1 246.4L869.3 243.9L870.5 247.1L871.7 244.9L872.9 248.6L874.1 245.1L875.3 248.9L876.5 244.6L877.7 249.1L878.9 243.9L880.1 249.1L881.3 243.4L882.5 249.1L883.7 243.4L884.9 249.6L886.1 243.6L887.3 250.6L888.5 243.6L889.7 249.4L890.9 243.6L892.1 248.9L893.3 244.9L894.5 248.9L895.7 245.9L896.9 248.9L898.1 246.4L899.3 249.1L900.5 245.9L901.7 248.6L902.9 244.1L904.1 247.4L905.3 241.4L906.5 246.6L907.7 238.6L908.9 246.4L910.1 237.9L911.3 246.4L912.5 239.9L913.7 246.1L914.9 240.9L916.1 246.1L917.3 241.1L918.5 244.9L919.7 240.9L920.9 243.6L922.1 240.6L923.3 243.4L924.5 240.4L925.7 243.1L926.9 238.9L928.1 243.1L929.3 238.1L930.5 242.9L931.7 238.9L932.9 243.4L934.1 239.6L935.3 244.1L936.5 240.1L937.7 244.9L938.9 240.4L940.1 244.1L941.3 239.6L942.5 243.4L943.7 238.9L944.9 242.4L946.1 238.1L947.3 241.6L948.5 237.6L949.7 240.9L950.9 236.6L952.1 240.1L953.3 235.9L954.5 239.9L955.7 236.4L956.9 240.6L958.1 237.6L959.3 241.6L960.5 238.9L961.7 242.6L962.9 239.4L964.1 243.1L965.3 239.1L966.5 242.4L967.7 238.4L968.9 241.4L970.1 237.4L971.3 240.4L972.5 236.6L973.7 239.4L974.9 235.6L976.1 238.1L977.3 234.6L978.5 237.1L979.7 233.4L980.9 235.9L982.1 232.4L983.3 235.4L984.5 232.4L985.7 235.6L986.9 233.6L988.1 237.1L989.3 234.4L990.5 238.6L991.7 234.1L992.9 238.9L994.1 233.6L995.3 238.6L996.5 233.4L997.7 238.1L998.9 232.9L1000.1 237.6L1001.3 232.4L1002.5 237.1L1003.7 232.1L1004.9 236.9L1006.1 231.9L1007.3 236.4L1008.5 231.9L1009.7 236.1L1010.9 231.6L1012.1 235.9L1013.3 231.4L1014.5 235.9L1015.7 231.1L1016.9 235.6L1018.1 231.1L1019.3 235.4L1020.5 230.9L1021.7 234.6L1022.9 230.4L1024.1 233.6L1025.3 229.4L1026.5 232.6L1027.7 228.4L1028.9 232.1L1030.1 227.4L1031.3 231.9L1032.5 226.9L1033.7 231.6L1034.9 226.6L1036.1 231.4L1037.3 226.4L1038.5 231.1L1039.7 226.1L1040.9 230.9L1042.1 226.1L1043.3 231.4L1044.5 226.9L1045.7 232.1L1046.9 227.4L1048.1 232.9L1049.3 227.4L1050.5 231.9L1051.7 226.9L1052.9 231.1L1054.1 226.4L1055.3 230.4L1056.5 225.9L1057.7 229.6L1058.9 225.1L1060.1 229.1L1061.3 224.9L1062.5 229.4L1063.7 225.1L1064.9 229.6L1066.1 225.4L1067.3 229.9L1068.5 225.4L1069.7 229.6L1070.9 225.1L1072.1 229.4L1073.3 225.1L1074.5 229.1L1075.7 225.1L1076.9 228.4L1078.1 224.6L1079.3 227.6L1080.5 224.4L1081.7 227.1L1082.9 223.9L1084.1 226.4L1085.3 223.4L1086.5 226.1L1087.7 222.4L1088.9 225.6L1090.1 221.1L1091.3 225.9L1092.5 220.6L1093.7 226.1L1094.9 221.4L1096.1 226.4L1097.3 222.1L1098.5 226.6L1099.7 222.6L1100.9 226.1L1102.1 222.4L1103.3 224.6L1104.5 221.6L1105.7 223.6L1106.9 220.6L1108.1 222.6L1109.3 219.9L1110.5 222.4L1111.7 220.6L1112.9 223.1L1114.1 221.9L1115.3 224.9L1116.5 222.4L1117.7 226.6L1118.9 221.9L1120.1 226.1L1121.3 220.9L1122.5 225.6L1123.7 220.4L1124.9 224.9L1126.1 220.1L1127.3 224.1L1128.5 219.4L1129.7 223.4L1130.9 218.9L1132.1 223.4L1133.3 218.4L1134.5 223.1L1135.7 218.1L1136.9 223.1L1138.1 218.1L1139.3 222.9L1140.5 218.4L1141.7 222.4L1142.9 218.6L1144.1 221.9L1145.3 218.6L1146.5 221.9L1147.7 218.6L1148.9 221.9L1150.1 218.1L1151.3 221.9L1152.5 217.6L1153.8 221.9L1155.0 217.1L1156.2 221.4L1157.4 216.9L1158.6 220.9L1159.8 216.6L1161.0 220.1L1162.2 216.4L1163.4 219.6L1164.6 216.1L1165.8 219.6L1167.0 215.9L1168.2 219.6L1169.4 215.6L1170.6 220.1L1171.8 215.4L1173.0 219.6L1174.2 214.9L1175.4 218.4L1176.6 214.4L1177.8 217.4L1179.0 213.6L1180.2 216.6L1181.4 212.9L1182.6 216.1L1183.8 212.4L1185.0 216.1L1186.2 212.1L1187.4 216.9L1188.6 212.4L1189.8 217.4L1191.0 212.6L1192.2 217.9L1193.4 212.9L1194.6 218.1L1195.8 212.9L1197.0 218.4L1198.2 213.1L1199.4 218.4L1200.6 213.6L1201.8 218.9L1203.0 213.9L1204.2 218.6L1205.4 214.1L1206.6 218.4L1207.8 214.4L1209.0 218.1L1210.2 214.1L1211.4 217.9L1212.6 213.9L1213.8 217.6L1215.0 213.4L1216.2 217.4L1217.4 212.6L1218.6 217.1L1219.8 212.4L1221.0 216.9L1222.2 212.4L1223.4 216.9L1224.6 212.4L1225.8 216.6L1227.0 212.4L1228.2 216.1L1229.4 211.9L1230.6 215.6L1231.8 211.1L1233.0 215.4L1234.2 210.4L1235.4 214.9L1236.6 209.6L1237.8 214.6L1239.0 210.4L1240.2 214.9L1241.4 211.1L1242.6 215.1L1243.8 211.9L1245.0 215.4L1246.2 212.1L1247.4 215.9L1248.6 212.6L1249.8 216.1L1251.0 212.9L1252.2 215.6L1253.4 212.4L1254.6 215.1L1255.8 211.9L1257.0 214.6L1258.2 211.4L1259.4 214.4L1260.6 210.9L1261.8 214.1L1263.0 210.4L1264.2 213.6L1265.4 209.9L1266.6 213.4L1267.8 208.9L1269.0 213.1L1270.2 207.9L1271.4 212.6L1272.6 206.6L1273.8 212.4L1275.0 206.9L1276.2 212.1L1277.4 207.1L1278.6 211.6L1279.8 207.4L1281.0 211.6L1282.2 207.4L1283.4 211.6L1284.6 207.4L1285.8 212.1L1287.0 207.4L1288.2 212.6L1289.4 207.1L1290.6 212.4L1291.8 206.9L1293.0 211.4L1294.2 206.4L1295.4 210.6L1296.6 206.1L1297.8 209.9L1299.0 205.6L1300.2 209.6L1301.4 205.4L1302.6 209.4L1303.8 205.1L1305.0 209.1L1306.2 204.9L1307.4 208.9L1308.6 204.9L1309.8 208.9L1311.0 205.1L1312.2 209.1L1313.4 205.6L1314.6 209.1L1315.8 206.1L1317.0 209.1L1318.2 206.1L1319.4 209.4L1320.6 205.9L1321.8 209.6L1323.0 205.4L1324.2 210.1L1325.4 205.1L1326.6 210.1L1327.8 205.1L1329.0 209.6L1330.2 205.1L1331.4 209.4L1332.6 205.1L1333.8 208.9L1335.0 205.1L1336.2 208.9L1337.4 204.9L1338.6 208.4L1339.8 204.6L1341.0 208.1L1342.2 204.6L1343.4 208.1L1344.6 204.4L1345.8 207.9L1347.0 203.9L1348.2 207.6L1349.4 203.4L1350.6 207.4L1351.8 202.6L1353.0 207.4L1354.2 202.4L1355.4 207.1L1356.6 202.6L1357.8 206.9L1359.0 202.9L1360.2 206.6L1361.4 202.9L1362.6 206.6L1363.8 203.1L1365.0 206.9L1366.2 203.4L1367.4 207.1L1368.6 203.4L1369.8 207.4L1371.0 203.4L1372.2 206.9L1373.4 202.9L1374.6 206.1L1375.8 202.1L1377.0 205.4L1378.2 201.1L1379.4 204.9L1380.6 200.1L1381.8 204.1L1383.0 199.6L1384.2 204.4L1385.4 199.9L1386.6 204.9L1387.8 200.4L1389.0 205.1L1390.2 200.6L1391.4 205.4L1392.6 201.1L1393.8 205.9L1395.0 201.4L1396.2 205.9L1397.4 201.4L1398.6 205.6L1399.8 200.9L1401.0 205.4L1402.2 200.6L1403.4 205.1L1404.6 200.4L1405.8 204.6L1407.0 200.4L1408.2 204.9L1409.4 200.9L1410.6 205.6L1411.8 201.1L1413.0 206.4L1414.2 201.6L1415.4 207.1L1416.6 201.9L1417.8 207.4L1419.0 202.1L1420.2 207.1L1421.4 202.1L1422.6 206.9L1423.8 202.1L1425.0 206.6L1426.2 202.1L1427.4 206.1L1428.6 202.1L1429.8 205.9L1431.0 201.9L1432.2 205.4L1433.4 201.6L1434.6 205.1L1435.8 201.6L1437.0 204.1L1438.2 201.4L1439.4 203.4L1440.6 200.4L1441.8 203.1L1443.0 199.6L1444.2 202.9L1445.4 199.1L1446.6 202.4L1447.8 198.6L1449.0 202.1L1450.2 197.9L1451.4 201.6L1452.6 197.4L1453.8 201.4L1455.0 197.4L1456.2 201.4L1457.4 197.6L1458.6 201.1L1459.8 197.9L1461.0 201.1L1462.2 197.9L1463.4 201.4L1464.6 198.1L1465.8 201.6L1467.0 198.1L1468.2 201.9L1469.4 198.4L1470.6 202.1L1471.8 198.1L1473.0 201.9L1474.2 197.9L1475.4 201.9L1476.6 197.4L1477.8 201.6L1479.0 196.9L1480.2 201.6L1481.4 196.9L1482.6 201.1L1483.8 196.9L1485.0 200.9L1486.2 196.6L1487.4 200.9L1488.6 196.6L1489.8 200.9L1491.0 196.9L1492.2 201.1L1493.4 197.4L1494.6 201.6L1495.8 197.4L1497.0 201.9L1498.2 197.4L1499.4 201.6L1500.6 197.4L1501.8 201.4L1503.0 197.1L1504.2 201.4L1505.5 196.9L1506.7 201.4L1507.9 196.9L1509.1 201.4L1510.3 196.6L1511.5 201.4L1512.7 196.4L1513.9 201.4L1515.1 196.1L1516.3 201.1L1517.5 195.9L1518.7 200.9L1519.9 195.4L1521.1 200.4L1522.3 194.6L1523.5 200.1L1524.7 194.4L1525.9 199.6L1527.1 194.1L1528.3 199.1L1529.5 194.4L1530.7 198.9L1531.9 194.4L1533.1 198.4L1534.3 194.1L1535.5 198.1L1536.7 193.9L1537.9 198.4L1539.1 194.1L1540.3 198.6L1541.5 194.6L1542.7 199.1L1543.9 195.1L1545.1 199.9L1546.3 195.6L1547.5 200.6L1548.7 195.4L1549.9 200.6L1551.1 195.4L1552.3 200.1L1553.5 195.1L1554.7 199.4L1555.9 194.6L1557.1 198.6L1558.3 194.4L1559.5 198.1L1560.7 194.1L1561.9 198.1L1563.1 193.9L1564.3 198.1L1565.5 194.1L1566.7 198.4L1567.9 194.1L1569.1 198.4L1570.3 193.9L1571.5 198.1L1572.7 193.9L1573.9 198.1L1575.1 193.6L1576.3 198.1L1577.5 193.4L1578.7 197.9L1579.9 193.4L1581.1 197.4L1582.3 192.9L1583.5 196.9L1584.7 192.4L1585.9 196.9L1587.1 192.6L1588.3 197.1L1589.5 192.9L1590.7 197.9L1591.9 193.4L1593.1 198.6L1594.3 193.9L1595.5 199.4L1596.7 193.9L1597.9 199.1L1599.1 194.1L1600.3 198.4L1601.5 194.4L1602.7 197.6L1603.9 194.6L1605.1 197.4L1606.3 194.4L1607.5 197.1L1608.7 194.1L1609.9 197.1L1611.1 193.9L1612.3 196.9L1613.5 193.6L1614.7 196.6L1615.9 193.4L1617.1 196.4L1618.3 192.6L1619.5 196.4L1620.7 192.1L1621.9 196.4L1623.1 191.6L1624.3 196.4L1625.5 191.9L1626.7 196.6L1627.9 192.4L1629.1 196.6L1630.3 192.9L1631.5 196.9L1632.7 192.9L1633.9 196.9L1635.1 192.9L1636.3 197.1L1637.5 193.1L1638.7 197.4L1639.9 193.1L1641.1 197.6L1642.3 193.1L1643.5 197.4L1644.7 193.1L1645.9 197.1L1647.1 193.1L1648.3 196.9L1649.5 192.9L1650.7 196.4L1651.9 192.4L1653.1 195.9L1654.3 192.1L1655.5 195.4L1656.7 191.9L1657.9 194.9L1659.1 191.4L1660.3 194.6L1661.5 190.9L1662.7 194.4L1663.9 190.9L1665.1 194.6L1666.3 191.6L1667.5 195.4L1668.7 191.9L1669.9 196.1L1671.1 192.1L1672.3 195.6L1673.5 191.6L1674.7 195.1L1675.9 191.4L1677.1 195.1L1678.3 191.4L1679.5 194.9L1680.7 191.1L1681.9 194.6L1683.1 190.9L1684.3 194.6L1685.5 190.6L1686.7 194.6L1687.9 190.6L1689.1 194.6L1690.3 190.4L1691.5 195.4L1692.7 190.4L1693.9 195.6L1695.1 190.1L1696.3 195.6L1697.5 190.1L1698.7 195.4L1699.9 190.1L1701.1 194.9L1702.3 189.9L1703.5 194.4L1704.7 189.6L1705.9 193.9L1707.1 189.1L1708.3 192.9L1709.5 188.6L1710.7 192.4L1711.9 188.1L1713.1 191.9L1714.3 187.9L1715.5 191.6L1716.7 187.4L1717.9 191.9L1719.1 187.4L1720.3 192.1L1721.5 187.1L1722.7 192.4L1723.9 187.1L1725.1 192.1L1726.3 187.4L1727.5 191.6L1728.7 187.4L1729.9 191.6L1731.1 187.4L1732.3 191.6L1733.5 187.6L1734.7 191.6L1735.9 188.1L1737.1 191.6L1738.3 188.4L1739.5 191.6L1740.7 188.4L1741.9 191.6L1743.1 188.1L1744.3 191.6L1745.5 187.9L1746.7 191.9L1747.9 187.6L1749.1 192.1L1750.3 187.4L1751.5 191.9L1752.7 187.4L1753.9 191.6L1755.1 187.4L1756.3 191.4L1757.5 187.4L1758.7 191.4L1759.9 187.1L1761.1 190.9L1762.3 187.1L1763.5 190.6L1764.7 187.1L1765.9 190.4L1767.1 186.9L1768.3 190.4L1769.5 187.1L1770.7 190.6L1771.9 187.4L1773.1 191.1L1774.3 187.6L1775.5 191.4L1776.7 187.9L1777.9 191.9L1779.1 187.9L1780.3 192.1L1781.5 187.6L1782.7 191.9L1783.9 186.9L1785.1 191.6L1786.3 186.4L1787.5 191.1L1788.7 186.6L1789.9 190.9L1791.1 186.9L1792.3 190.6L1793.5 187.1L1794.7 190.4L1795.9 186.9L1797.1 190.4L1798.3 186.6L1799.5 190.4L1800.7 186.4L1801.9 190.4L1803.1 186.4L1804.3 190.6L1805.5 186.9L1806.7 191.1L1807.9 187.4L1809.1 191.6L1810.3 187.9L1811.5 192.1L1812.7 188.1L1813.9 191.4L1815.1 187.4L1816.3 190.4L1817.5 186.4L1818.7 189.6L1819.9 185.6L1821.1 189.4L1822.3 185.1L1823.5 189.4L1824.7 185.1L1825.9 189.1L1827.1 185.1L1828.3 188.9L1829.5 185.1L1830.7 188.9L1831.9 185.1L1833.1 188.9L1834.3 184.9L1835.5 188.9L1836.7 184.9L1837.9 189.1L1839.1 184.6L1840.3 189.1L1841.5 184.6L1842.7 189.1L1843.9 184.4L1845.1 189.4L1846.3 184.4L1847.5 189.6L1848.7 184.4L1849.9 189.6L1851.1 184.4L1852.3 189.4L1853.5 184.4L1854.7 189.4L1855.9 184.4L1857.1 189.4L1858.4 184.6L1859.6 189.6L1860.8 185.1L1862.0 189.6L1863.2 185.6L1864.4 189.9L1865.6 186.1L1866.8 189.9L1868.0 186.1L1869.2 190.1L1870.4 185.9L1871.6 190.6L1872.8 185.9L1874.0 191.1L1875.2 185.9L1876.4 191.4L1877.6 186.1L1878.8 191.4L1880.0 186.4L1881.2 191.6L1882.4 186.9L1883.6 191.9L1884.8 186.9L1886.0 191.9L1887.2 186.9L1888.4 191.4L1889.6 186.9L1890.8 191.1L1892.0 186.9L1893.2 191.1L1894.4 186.9L1895.6 190.6L1896.8 186.6L1898.0 189.9L1899.2 185.9L1900.4 189.4L1901.6 185.1L1902.8 188.9L1904.0 184.4L1905.2 188.6L1906.4 183.9L1907.6 188.4L1908.8 183.4L1910.0 187.9L1911.2 182.6L1912.4 187.6L1913.6 182.6L1914.8 187.6L1916.0 182.9L1917.2 187.9L1918.4 183.1L1919.6 187.9L1920.8 183.1L1922.0 187.9L1923.2 183.1L1924.4 187.9L1925.6 183.1L1926.8 187.6L1928.0 182.9L1929.2 187.6L1930.4 182.9L1931.6 187.6L1932.8 182.9L1934.0 187.4L1935.2 182.9L1936.4 187.1L1937.6 182.9L1938.8 187.1L1940.0 182.9L1941.2 186.9L1942.4 183.1L1943.6 186.9L1944.8 183.1L1946.0 186.9L1947.2 183.1L1948.4 186.9L1949.6 183.4L1950.8 187.1L1952.0 183.4L1953.2 187.9L1954.4 183.4L1955.6 188.4L1956.8 183.6L1958.0 188.4L1959.2 183.6L1960.4 188.4L1961.6 183.6L1962.8 188.6L1964.0 183.6L1965.2 188.6L1966.4 183.6L1967.6 188.6L1968.8 183.6L1970.0 188.6L1971.2 183.6L1972.4 188.6L1973.6 183.6L1974.8 188.6L1976.0 183.9L1977.2 188.6L1978.4 184.4L1979.6 188.6L1980.8 184.6L1982.0 188.6L1983.2 184.9L1984.4 188.6L1985.6 184.9L1986.8 188.9L1988.0 184.6L1989.2 189.1L1990.4 184.6L1991.6 189.4L1992.8 184.6L1994.0 189.1L1995.2 184.4L1996.4 188.9L1997.6 184.1L1998.8 188.4L2000.0 183.6L2001.2 187.9L2002.4 183.1L2003.6 187.9L2004.8 182.9L2006.0 187.9L2007.2 182.6L2008.4 187.6L2009.6 182.1L2010.8 187.1L2012.0 181.9L2013.2 186.4L2014.4 181.4L2015.6 185.9L2016.8 181.1L2018.0 185.6L2019.2 181.1L2020.4 185.4L2021.6 181.1L2022.8 185.4L2024.0 181.1L2025.2 185.1L2026.4 181.1L2027.6 185.1L2028.8 181.1L2030.0 185.1L2031.2 181.1L2032.4 185.4L2033.6 180.6L2034.8 185.9L2036.0 180.4L2037.2 186.1L2038.4 180.4L2039.6 185.9L2040.8 180.9L2042.0 185.9L2043.2 181.4L2044.4 185.6L2045.6 181.4L2046.8 185.6L2048.0 181.4L2049.2 185.6L2050.4 181.1L2051.6 185.6L2052.8 181.1L2054.0 185.6L2055.2 180.9L2056.4 185.6L2057.6 180.9L2058.8 185.1L2060.0 180.9L2061.2 184.6L2062.4 180.9L2063.6 184.6L2064.8 180.9L2066.0 184.6L2067.2 181.1L2068.4 184.6L2069.6 181.4L2070.8 184.9L2072.0 181.6L2073.2 184.9L2074.4 181.6L2075.6 184.9L2076.8 181.4L2078.0 185.1L2079.2 180.9L2080.4 185.4L2081.6 180.6L2082.8 185.4L2084.0 180.6L2085.2 185.1L2086.4 181.1L2087.6 184.9L2088.8 181.6L2090.0 185.1L2091.2 181.9L2092.4 185.1L2093.6 182.4L2094.8 185.6L2096.0 182.9L2097.2 186.1L2098.4 182.9L2099.6 186.1L2100.8 182.9L2102.0 185.9L2103.2 182.6L2104.4 185.9L2105.6 182.1L2106.8 186.1L2108.0 181.6L2109.2 185.9L2110.4 181.4L2111.6 185.9L2112.8 181.4L2114.0 185.9L2115.2 181.1L2116.4 185.9L2117.6 181.1L2118.8 185.9L2120.0 180.9L2121.2 185.6L2122.4 180.6L2123.6 185.1L2124.8 180.1L2126.0 184.9L2127.2 179.9L2128.4 184.6L2129.6 180.6L2130.8 184.6L2132.0 181.6L2133.2 184.9L2134.4 182.1L2135.6 185.4L2136.8 182.9L2138.0 186.1L2139.2 183.1L2140.4 186.1L2141.6 182.6L2142.8 186.1L2144.0 182.4L2145.2 185.9L2146.4 182.1L2147.6 185.6L2148.8 181.6L2150.0 185.6L2151.2 181.1L2152.4 185.4L2153.6 180.6L2154.8 185.1L2156.0 180.4L2157.2 185.1L2158.4 180.4L2159.6 185.1L2160.8 180.1L2162.0 184.9L2163.2 179.9L2164.4 184.9L2165.6 179.9L2166.8 184.6L2168.0 179.6L2169.2 184.6L2170.4 179.6L2171.6 184.4L2172.8 179.4L2174.0 183.4L2175.2 179.1L2176.4 182.6L2177.6 178.6L2178.8 181.9L2180.0 178.4L2181.2 181.6L2182.4 178.1L2183.6 181.6L2184.8 177.9L2186.0 181.9L2187.2 178.1L2188.4 182.4L2189.6 179.1L2190.8 183.6L2192.0 179.6L2193.2 184.6L2194.4 180.4L2195.6 185.4L2196.8 180.9L2198.0 184.6L2199.2 180.6L2200.4 182.9L2201.6 179.4L2202.8 181.9L2204.0 178.1L2205.2 181.4L2206.4 178.1L2207.6 181.4L2208.8 178.4L2210.1 181.9L2211.3 178.9L2212.5 182.1L2213.7 179.4L2214.9 182.9L2216.1 179.6L2217.3 183.1L2218.5 180.1L2219.7 183.4L2220.9 180.1L2222.1 182.6L2223.3 179.4L2224.5 182.4L2225.7 178.9L2226.9 182.1L2228.1 178.6L2229.3 182.1L2230.5 178.4L2231.7 181.9L2232.9 178.1L2234.1 181.9L2235.3 177.9L2236.5 181.6L2237.7 177.9L2238.9 181.6L2240.1 177.6L2241.3 181.4L2242.5 177.6L2243.7 181.4L2244.9 177.4L2246.1 181.1L2247.3 177.4L2248.5 181.1L2249.7 177.6L2250.9 181.4L2252.1 177.6L2253.3 181.4L2254.5 177.9L2255.7 181.6L2256.9 177.9L2258.1 181.9L2259.3 177.9L2260.5 182.4L2261.7 178.1L2262.9 182.1L2264.1 177.6L2265.3 181.4L2266.5 177.1L2267.7 180.9L2268.9 176.6L2270.1 180.4L2271.3 176.1L2272.5 180.1L2273.7 175.6L2274.9 179.6L2276.1 175.4L2277.3 179.1L2278.5 174.9L2279.7 179.1L2280.9 174.6L2282.1 179.1L2283.3 174.4L2284.5 179.4L2285.7 174.9L2286.9 179.6L2288.1 175.9L2289.3 180.6L2290.5 176.9L2291.7 181.6L2292.9 178.4L2294.1 182.4L2295.3 179.4L2296.5 183.1L2297.7 179.9"/>
<path id="s-rgo" stroke="#0000ff" d="M360.3 278.6L361.5 281.1L362.7 271.1L363.9 281.1L365.1 261.1L366.3 281.4L367.5 254.6L368.7 281.9L369.9 255.1L371.1 281.9L372.3 256.1L373.5 278.1L374.7 257.9L375.9 276.6L377.1 260.9L378.3 276.1L379.5 261.9L380.7 276.6L381.9 262.4L383.1 278.9L384.3 263.9L385.5 288.6L386.7 266.4L387.9 291.6L389.1 267.4L390.3 284.4L391.5 267.1L392.7 279.1L393.9 266.4L395.1 277.4L396.3 265.4L397.5 276.9L398.7 263.9L399.9 276.9L401.1 259.1L402.3 276.9L403.5 253.6L404.7 277.1L405.9 252.4L407.1 278.1L408.3 259.6L409.5 282.9L410.7 274.1L411.9 298.9L413.1 282.6L414.3 303.4L415.5 284.4L416.7 304.6L417.9 285.4L419.1 306.1L420.3 288.6L421.5 306.6L422.7 289.9L423.9 307.1L425.1 290.1L426.3 307.4L427.5 290.1L428.7 306.9L429.9 289.9L431.1 305.6L432.3 288.4L433.5 304.6L434.7 283.6L435.9 303.9L437.1 284.4L438.3 304.1L439.5 292.6L440.7 305.1L441.9 298.1L443.1 307.6L444.3 300.1L445.5 311.1L446.7 301.4L447.9 312.9L449.2 301.9L450.4 311.9L451.6 301.4L452.8 310.9L454.0 300.6L455.2 310.6L456.4 301.1L457.6 310.9L458.8 302.6L460.0 311.1L461.2 303.6L462.4 310.9L463.6 303.6L464.8 309.6L466.0 303.4L467.2 308.9L468.4 303.4L469.6 309.1L470.8 305.1L472.0 310.1L473.2 307.6L474.4 313.1L475.6 308.9L476.8 316.4L478.0 309.1L479.2 320.9L480.4 308.9L481.6 321.1L482.8 308.9L484.0 320.1L485.2 308.9L486.4 319.6L487.6 309.4L488.8 320.4L490.0 316.6L491.2 322.1L492.4 319.4L493.6 323.9L494.8 320.4L496.0 324.4L497.2 321.4L498.4 324.9L499.6 322.1L500.8 325.6L502.0 322.9L503.2 326.9L504.4 325.4L505.6 332.9L506.8 330.6L508.0 340.6L509.2 332.4L510.4 342.9L511.6 333.1L512.8 341.1L514.0 333.9L515.2 340.1L516.4 334.6L517.6 339.9L518.8 334.4L520.0 339.4L521.2 334.1L522.4 338.4L523.6 333.6L524.8 337.4L526.0 333.4L527.2 336.9L528.4 332.9L529.6 337.4L530.8 332.1L532.0 338.6L533.2 331.4L534.4 339.6L535.6 331.1L536.8 340.4L538.0 331.1L539.2 340.9L540.4 336.1L541.6 342.6L542.8 340.1L544.0 345.1L545.2 342.4L546.4 345.4L547.6 343.4L548.8 345.1L550.0 343.9L551.2 345.1L552.4 343.9L553.6 345.6L554.8 343.9L556.0 347.1L557.2 343.9L558.4 347.9L559.6 344.1L560.8 347.9L562.0 344.1L563.2 347.9L564.4 344.1L565.6 347.9L566.8 344.1L568.0 347.9L569.2 343.4L570.4 347.9L571.6 341.1L572.8 347.9L574.0 338.6L575.2 348.4L576.4 339.9L577.6 350.4L578.8 342.4L580.0 354.1L581.2 343.4L582.4 354.1L583.6 343.9L584.8 352.9L586.0 343.9L587.2 351.9L588.4 343.9L589.6 351.4L590.8 344.1L592.0 352.1L593.2 344.1L594.4 353.6L595.6 343.9L596.8 354.4L598.0 342.9L599.2 352.4L600.4 339.9L601.6 349.9L602.8 336.9L604.0 347.9L605.2 337.1L606.4 346.9L607.6 337.9L608.8 346.4L610.0 338.6L611.2 345.6L612.4 339.1L613.6 343.6L614.8 339.1L616.0 342.4L617.2 338.9L618.4 341.6L619.6 338.9L620.8 340.9L622.0 338.4L623.2 340.1L624.4 337.1L625.6 339.4L626.8 336.4L628.0 339.4L629.2 337.9L630.4 340.1L631.6 339.4L632.8 342.9L634.0 340.1L635.2 345.4L636.4 339.6L637.6 343.9L638.8 338.1L640.0 342.6L641.2 335.4L642.4 342.1L643.6 333.1L644.8 341.9L646.0 332.9L647.2 341.6L648.4 334.1L649.6 341.4L650.8 336.1L652.0 341.6L653.2 337.9L654.4 341.6L655.6 339.4L656.8 341.9L658.0 339.9L659.2 342.1L660.4 339.4L661.6 342.4L662.8 337.6L664.0 340.6L665.2 335.1L666.4 338.6L667.6 333.1L668.8 337.6L670.0 332.1L671.2 337.1L672.4 331.4L673.6 337.1L674.8 330.4L676.0 336.9L677.2 329.4L678.4 336.6L679.6 326.1L680.8 336.4L682.0 322.1L683.2 336.6L684.4 320.4L685.6 337.9L686.8 323.4L688.0 340.6L689.2 324.4L690.4 342.4L691.6 324.6L692.8 338.4L694.0 323.6L695.2 333.6L696.4 322.6L697.6 331.9L698.8 321.6L700.0 331.4L701.2 322.4L702.4 331.9L703.6 324.4L704.8 332.4L706.0 325.4L707.2 331.4L708.4 325.1L709.6 329.4L710.8 324.1L712.0 327.9L713.2 322.4L714.4 327.1L715.6 320.6L716.8 326.6L718.0 319.4L719.2 325.9L720.4 318.9L721.6 323.9L722.8 318.4L724.0 322.4L725.2 318.1L726.4 321.9L727.6 317.6L728.8 321.6L730.0 317.1L731.2 321.6L732.4 316.1L733.6 321.4L734.8 314.6L736.0 321.9L737.2 314.6L738.4 323.1L739.6 316.4L740.8 324.9L742.0 316.9L743.2 324.9L744.4 316.9L745.6 324.9L746.8 316.6L748.0 324.6L749.2 316.6L750.4 324.6L751.6 317.9L752.8 324.9L754.0 319.1L755.2 325.6L756.4 319.6L757.6 328.4L758.8 319.6L760.0 326.4L761.2 319.6L762.4 324.9L763.6 319.6L764.8 323.1L766.0 319.1L767.2 321.6L768.4 317.4L769.6 319.9L770.8 314.4L772.0 319.1L773.2 311.6L774.4 318.9L775.6 308.6L776.8 318.6L778.0 308.1L779.2 318.6L780.4 307.9L781.6 317.1L782.8 307.6L784.0 314.4L785.2 307.4L786.4 312.6L787.6 307.1L788.8 310.6L790.0 306.4L791.2 308.9L792.4 305.1L793.6 307.6L794.8 298.6L796.0 307.4L797.2 292.1L798.4 307.9L799.6 292.1L800.9 308.6L802.1 296.1L803.3 310.1L804.5 297.6L805.7 314.1L806.9 298.4L808.1 311.9L809.3 298.6L810.5 307.1L811.7 297.9L812.9 303.6L814.1 295.6L815.3 298.9L816.5 291.6L817.7 294.6L818.9 290.4L820.1 293.1L821.3 289.1L822.5 292.6L823.7 288.1L824.9 292.4L826.1 285.6L827.3 291.9L828.5 283.6L829.7 291.6L830.9 283.6L832.1 291.4L833.3 284.9L834.5 291.9L835.7 285.9L836.9 292.4L838.1 285.9L839.3 292.1L840.5 285.1L841.7 290.4L842.9 284.1L844.1 288.1L845.3 283.1L846.5 287.4L847.7 281.9L848.9 286.9L850.1 279.1L851.3 286.4L852.5 276.4L853.7 285.9L854.9 279.1L856.1 285.6L857.3 280.4L858.5 285.6L859.7 280.6L860.9 285.9L862.1 280.6L863.3 285.9L864.5 280.6L865.7 286.1L866.9 280.6L868.1 286.1L869.3 280.6L870.5 286.4L871.7 280.4L872.9 285.6L874.1 279.4L875.3 284.6L876.5 280.1L877.7 283.9L878.9 281.1L880.1 284.1L881.3 281.6L882.5 284.9L883.7 282.1L884.9 286.9L886.1 282.6L887.3 287.4L888.5 282.9L889.7 287.1L890.9 282.6L892.1 286.1L893.3 282.6L894.5 286.1L895.7 282.6L896.9 286.1L898.1 282.4L899.3 286.4L900.5 282.1L901.7 285.1L902.9 280.9L904.1 283.1L905.3 278.1L906.5 282.4L907.7 276.6L908.9 282.6L910.1 276.4L911.3 282.9L912.5 276.9L913.7 283.1L914.9 278.1L916.1 283.4L917.3 278.6L918.5 282.9L919.7 278.4L920.9 281.6L922.1 277.6L923.3 281.1L924.5 277.6L925.7 281.6L926.9 278.6L928.1 282.6L929.3 279.4L930.5 283.6L931.7 279.1L932.9 282.9L934.1 278.4L935.3 282.1L936.5 277.6L937.7 281.4L938.9 276.9L940.1 280.6L941.3 276.1L942.5 279.9L943.7 275.4L944.9 279.4L946.1 274.9L947.3 278.6L948.5 274.4L949.7 278.1L950.9 273.9L952.1 277.9L953.3 273.4L954.5 277.6L955.7 273.4L956.9 278.4L958.1 274.1L959.3 279.1L960.5 274.9L961.7 279.6L962.9 275.6L964.1 279.6L965.3 275.4L966.5 278.6L967.7 274.6L968.9 277.9L970.1 273.9L971.3 276.9L972.5 272.9L973.7 276.1L974.9 271.9L976.1 275.1L977.3 270.9L978.5 275.1L979.7 270.6L980.9 275.1L982.1 270.6L983.3 275.4L984.5 270.9L985.7 275.4L986.9 271.1L988.1 275.6L989.3 271.6L990.5 275.9L991.7 272.1L992.9 276.1L994.1 272.1L995.3 276.1L996.5 271.4L997.7 276.1L998.9 270.9L1000.1 276.1L1001.3 269.9L1002.5 275.9L1003.7 269.6L1004.9 275.4L1006.1 269.4L1007.3 274.6L1008.5 269.4L1009.7 274.1L1010.9 269.4L1012.1 274.1L1013.3 269.1L1014.5 274.1L1015.7 268.9L1016.9 274.1L1018.1 268.4L1019.3 274.1L1020.5 268.1L1021.7 273.9L1022.9 267.9L1024.1 273.6L1025.3 267.6L1026.5 273.4L1027.7 267.4L1028.9 272.9L1030.1 267.1L1031.3 272.1L1032.5 267.1L1033.7 271.4L1034.9 267.1L1036.1 270.6L1037.3 267.1L1038.5 270.4L1039.7 266.9L1040.9 270.1L1042.1 266.6L1043.3 270.4L1044.5 266.4L1045.7 270.6L1046.9 266.6L1048.1 270.9L1049.3 266.9L1050.5 270.4L1051.7 266.4L1052.9 269.9L1054.1 265.9L1055.3 269.1L1056.5 265.4L1057.7 268.9L1058.9 264.9L1060.1 268.4L1061.3 264.1L1062.5 268.9L1063.7 264.1L1064.9 269.4L1066.1 264.4L1067.3 269.6L1068.5 264.9L1069.7 269.9L1070.9 265.4L1072.1 269.9L1073.3 265.9L1074.5 270.1L1075.7 265.6L1076.9 269.9L1078.1 265.4L1079.3 269.9L1080.5 264.9L1081.7 269.9L1082.9 264.6L1084.1 269.6L1085.3 264.1L1086.5 269.4L1087.7 263.9L1088.9 269.1L1090.1 263.6L1091.3 269.4L1092.5 264.4L1093.7 270.1L1094.9 265.4L1096.1 270.6L1097.3 265.9L1098.5 269.6L1099.7 265.4L1100.9 268.6L1102.1 264.4L1103.3 267.6L1104.5 263.4L1105.7 266.6L1106.9 262.4L1108.1 266.1L1109.3 262.4L1110.5 266.6L1111.7 263.4L1112.9 267.4L1114.1 264.4L1115.3 267.9L1116.5 264.9L1117.7 267.9L1118.9 264.6L1120.1 267.4L1121.3 264.1L1122.5 266.6L1123.7 263.4L1124.9 266.1L1126.1 262.9L1127.3 265.6L1128.5 262.1L1129.7 265.4L1130.9 261.4L1132.1 265.4L1133.3 260.6L1134.5 265.4L1135.7 260.1L1136.9 265.6L1138.1 260.1L1139.3 265.6L1140.5 260.6L1141.7 265.6L1142.9 260.9L1144.1 265.6L1145.3 261.1L1146.5 265.6L1147.7 261.1L1148.9 265.9L1150.1 261.1L1151.3 265.9L1152.5 260.9L1153.8 266.1L1155.0 260.9L1156.2 265.9L1157.4 260.6L1158.6 265.4L1159.8 260.4L1161.0 264.9L1162.2 260.1L1163.4 264.4L1164.6 259.6L1165.8 263.9L1167.0 259.4L1168.2 263.6L1169.4 258.6L1170.6 263.4L1171.8 258.1L1173.0 263.1L1174.2 257.6L1175.4 262.6L1176.6 257.4L1177.8 262.4L1179.0 257.1L1180.2 261.9L1181.4 257.1L1182.6 261.6L1183.8 256.6L1185.0 261.4L1186.2 256.6L1187.4 261.4L1188.6 256.6L1189.8 261.1L1191.0 256.6L1192.2 261.4L1193.4 256.6L1194.6 260.9L1195.8 256.6L1197.0 260.6L1198.2 256.6L1199.4 260.4L1200.6 256.9L1201.8 260.6L1203.0 256.9L1204.2 260.9L1205.4 257.1L1206.6 261.1L1207.8 257.1L1209.0 261.1L1210.2 257.1L1211.4 261.1L1212.6 257.1L1213.8 261.1L1215.0 257.1L1216.2 260.9L1217.4 257.1L1218.6 260.9L1219.8 257.1L1221.0 260.9L1222.2 256.9L1223.4 261.1L1224.6 256.6L1225.8 261.4L1227.0 256.4L1228.2 261.4L1229.4 256.4L1230.6 261.4L1231.8 256.4L1233.0 261.1L1234.2 256.1L1235.4 261.1L1236.6 256.1L1237.8 260.6L1239.0 255.9L1240.2 259.9L1241.4 255.4L1242.6 259.1L1243.8 254.9L1245.0 258.9L1246.2 254.6L1247.4 258.4L1248.6 254.4L1249.8 258.1L1251.0 254.1L1252.2 257.6L1253.4 254.1L1254.6 257.4L1255.8 253.9L1257.0 257.1L1258.2 253.9L1259.4 257.4L1260.6 254.1L1261.8 257.6L1263.0 254.1L1264.2 257.9L1265.4 254.1L1266.6 257.9L1267.8 253.9L1269.0 258.1L1270.2 253.4L1271.4 258.1L1272.6 253.4L1273.8 258.4L1275.0 253.6L1276.2 258.4L1277.4 254.1L1278.6 258.4L1279.8 254.1L1281.0 258.4L1282.2 254.1L1283.4 258.1L1284.6 253.6L1285.8 258.1L1287.0 253.6L1288.2 258.1L1289.4 253.9L1290.6 258.4L1291.8 253.9L1293.0 258.6L1294.2 253.6L1295.4 258.9L1296.6 253.6L1297.8 258.9L1299.0 253.4L1300.2 258.9L1301.4 253.4L1302.6 258.6L1303.8 253.4L1305.0 258.4L1306.2 253.4L1307.4 258.4L1308.6 253.4L1309.8 258.4L1311.0 253.6L1312.2 258.4L1313.4 253.6L1314.6 258.6L1315.8 253.9L1317.0 258.6L1318.2 253.6L1319.4 258.1L1320.6 253.4L1321.8 257.6L1323.0 252.9L1324.2 257.4L1325.4 252.6L1326.6 257.1L1327.8 252.4L1329.0 257.1L1330.2 252.1L1331.4 257.1L1332.6 252.1L1333.8 257.1L1335.0 252.1L1336.2 256.9L1337.4 251.9L1338.6 256.6L1339.8 251.6L1341.0 256.1L1342.2 251.4L1343.4 255.9L1344.6 251.4L1345.8 255.9L1347.0 251.1L1348.2 255.9L1349.4 251.1L1350.6 255.9L1351.8 250.9L1353.0 255.6L1354.2 250.9L1355.4 255.6L1356.6 250.4L1357.8 255.4L1359.0 250.1L1360.2 255.1L1361.4 250.6L1362.6 255.4L1363.8 251.9L1365.0 256.4L1366.2 253.1L1367.4 257.1L1368.6 253.4L1369.8 256.6L1371.0 252.9L1372.2 255.6L1373.4 252.4L1374.6 254.6L1375.8 251.4L1377.0 253.6L1378.2 250.6L1379.4 252.9L1380.6 249.6L1381.8 252.6L1383.0 248.9L1384.2 252.4L1385.4 248.1L1386.6 252.9L1387.8 247.9L1389.0 253.6L1390.2 248.1L1391.4 253.9L1392.6 248.6L1393.8 253.9L1395.0 249.4L1396.2 254.1L1397.4 249.6L1398.6 254.1L1399.8 249.6L1401.0 254.4L1402.2 249.9L1403.4 254.1L1404.6 249.9L1405.8 254.1L1407.0 250.1L1408.2 254.1L1409.4 250.4L1410.6 254.4L1411.8 250.9L1413.0 254.6L1414.2 251.1L1415.4 254.9L1416.6 251.1L1417.8 254.9L1419.0 251.1L1420.2 255.1L1421.4 250.9L1422.6 255.4L1423.8 250.9L1425.0 255.6L1426.2 250.9L1427.4 255.4L1428.6 250.9L1429.8 254.9L1431.0 251.1L1432.2 254.6L1433.4 251.1L1434.6 254.4L1435.8 251.1L1437.0 254.1L1438.2 250.6L1439.4 253.4L1440.6 249.9L1441.8 253.1L1443.0 248.6L1444.2 252.6L1445.4 248.1L1446.6 252.6L1447.8 247.9L1449.0 252.4L1450.2 247.6L1451.4 252.6L1452.6 247.4L1453.8 252.4L1455.0 247.9L1456.2 252.4L1457.4 248.1L1458.6 252.4L1459.8 248.4L1461.0 252.1L1462.2 248.4L1463.4 252.1L1464.6 247.9L1465.8 252.1L1467.0 247.1L1468.2 251.9L1469.4 246.6L1470.6 251.9L1471.8 246.6L1473.0 251.9L1474.2 247.1L1475.4 251.9L1476.6 247.6L1477.8 251.9L1479.0 247.9L1480.2 251.9L1481.4 247.9L1482.6 251.9L1483.8 247.9L1485.0 251.6L1486.2 247.9L1487.4 251.4L1488.6 247.9L1489.8 251.4L1491.0 247.6L1492.2 251.4L1493.4 247.1L1494.6 251.4L1495.8 246.6L1497.0 251.4L1498.2 246.4L1499.4 251.1L1500.6 246.4L1501.8 251.1L1503.0 246.4L1504.2 250.9L1505.5 246.4L1506.7 250.9L1507.9 246.6L1509.1 250.9L1510.3 247.4L1511.5 250.9L1512.7 247.6L1513.9 250.9L1515.1 247.6L1516.3 250.6L1517.5 247.6L1518.7 250.6L1519.9 247.6L1521.1 250.9L1522.3 247.6L1523.5 250.6L1524.7 247.4L1525.9 250.6L1527.1 247.4L1528.3 250.6L1529.5 247.1L1530.7 250.6L1531.9 247.1L1533.1 250.6L1534.3 246.9L1535.5 250.6L1536.7 247.1L1537.9 250.9L1539.1 247.6L1540.3 251.6L1541.5 248.1L1542.7 252.4L1543.9 248.1L1545.1 252.4L1546.3 248.1L1547.5 252.1L1548.7 247.9L1549.9 251.9L1551.1 247.9L1552.3 251.6L1553.5 247.6L1554.7 251.4L1555.9 247.1L1557.1 251.1L1558.3 246.6L1559.5 251.1L1560.7 246.4L1561.9 250.9L1563.1 246.1L1564.3 250.6L1565.5 245.6L1566.7 250.4L1567.9 245.4L1569.1 250.1L1570.3 245.1L1571.5 250.1L1572.7 245.4L1573.9 250.1L1575.1 245.6L1576.3 250.1L1577.5 245.9L1578.7 250.1L1579.9 245.9L1581.1 250.1L1582.3 246.4L1583.5 250.1L1584.7 246.6L1585.9 250.1L1587.1 246.9L1588.3 250.4L1589.5 247.1L1590.7 250.6L1591.9 247.4L1593.1 251.1L1594.3 247.6L1595.5 251.6L1596.7 247.6L1597.9 251.6L1599.1 247.6L1600.3 251.4L1601.5 247.1L1602.7 251.1L1603.9 246.6L1605.1 250.9L1606.3 246.4L1607.5 250.6L1608.7 245.9L1609.9 250.6L1611.1 245.4L1612.3 250.4L1613.5 244.9L1614.7 250.1L1615.9 244.6L1617.1 249.9L1618.3 244.6L1619.5 249.6L1620.7 244.6L1621.9 249.4L1623.1 244.6L1624.3 249.4L1625.5 244.9L1626.7 249.4L1627.9 245.1L1629.1 249.6L1630.3 245.1L1631.5 249.6L1632.7 245.1L1633.9 249.6L1635.1 245.1L1636.3 249.9L1637.5 245.1L1638.7 249.9L1639.9 244.9L1641.1 250.1L1642.3 244.9L1643.5 250.1L1644.7 244.6L1645.9 250.1L1647.1 244.6L1648.3 250.4L1649.5 244.4L1650.7 250.4L1651.9 244.6L1653.1 250.1L1654.3 244.6L1655.5 249.9L1656.7 244.6L1657.9 249.4L1659.1 244.6L1660.3 249.4L1661.5 244.6L1662.7 249.1L1663.9 244.6L1665.1 248.9L1666.3 244.6L1667.5 248.6L1668.7 244.6L1669.9 248.6L1671.1 244.4L1672.3 248.9L1673.5 244.1L1674.7 248.9L1675.9 243.9L1677.1 248.9L1678.3 243.6L1679.5 248.6L1680.7 243.4L1681.9 248.1L1683.1 243.4L1684.3 247.6L1685.5 243.4L1686.7 247.6L1687.9 243.1L1689.1 247.6L1690.3 243.1L1691.5 247.6L1692.7 243.1L1693.9 247.6L1695.1 243.1L1696.3 247.6L1697.5 243.1L1698.7 247.6L1699.9 243.4L1701.1 247.6L1702.3 243.4L1703.5 247.6L1704.7 243.6L1705.9 247.9L1707.1 243.9L1708.3 247.9L1709.5 243.9L1710.7 247.9L1711.9 243.9L1713.1 247.6L1714.3 243.9L1715.5 247.1L1716.7 243.4L1717.9 246.6L1719.1 243.1L1720.3 246.1L1721.5 242.9L1722.7 245.9L1723.9 242.4L1725.1 245.4L1726.3 241.9L1727.5 245.1L1728.7 241.1L1729.9 245.1L1731.1 240.9L1732.3 245.4L1733.5 241.1L1734.7 245.9L1735.9 241.6L1737.1 246.4L1738.3 242.1L1739.5 246.6L1740.7 242.4L1741.9 246.9L1743.1 242.6L1744.3 246.9L1745.5 242.9L1746.7 247.1L1747.9 243.1L1749.1 247.1L1750.3 243.4L1751.5 245.9L1752.7 242.6L1753.9 245.1L1755.1 241.6L1756.3 244.6L1757.5 240.6L1758.7 244.6L1759.9 240.6L1761.1 244.6L1762.3 240.6L1763.5 244.9L1764.7 240.9L1765.9 245.1L1767.1 240.9L1768.3 245.4L1769.5 241.9L1770.7 245.6L1771.9 242.6L1773.1 245.9L1774.3 243.1L1775.5 245.9L1776.7 243.1L1777.9 245.9L1779.1 242.9L1780.3 246.1L1781.5 242.6L1782.7 246.6L1783.9 242.6L1785.1 246.9L1786.3 242.4L1787.5 246.6L1788.7 242.1L1789.9 246.1L1791.1 242.1L1792.3 245.9L1793.5 241.9L1794.7 245.9L1795.9 241.6L1797.1 245.9L1798.3 241.6L1799.5 245.9L1800.7 241.6L1801.9 246.1L1803.1 241.6L1804.3 246.1L1805.5 242.1L1806.7 246.1L1807.9 242.1L1809.1 246.1L1810.3 242.6L1811.5 246.4L1812.7 242.6L1813.9 246.4L1815.1 242.4L1816.3 246.4L1817.5 241.9L1818.7 246.6L1819.9 241.6L1821.1 246.6L1822.3 241.6L1823.5 246.4L1824.7 241.9L1825.9 246.1L1827.1 242.1L1828.3 245.6L1829.5 242.4L1830.7 245.6L1831.9 242.4L1833.1 246.1L1834.3 242.6L1835.5 246.6L1836.7 242.6L1837.9 247.1L1839.1 242.9L1840.3 247.1L1841.5 242.6L1842.7 246.9L1843.9 242.4L1845.1 246.6L1846.3 241.9L1847.5 246.6L1848.7 241.6L1849.9 246.6L1851.1 241.9L1852.3 246.4L1853.5 242.1L1854.7 246.4L1855.9 242.4L1857.1 246.1L1858.4 242.4L1859.6 246.4L1860.8 242.4L1862.0 246.9L1863.2 242.4L1864.4 247.4L1865.6 242.4L1866.8 247.6L1868.0 242.6L1869.2 247.6L1870.4 242.9L1871.6 247.6L1872.8 243.4L1874.0 247.6L1875.2 243.4L1876.4 247.4L1877.6 243.1L1878.8 247.1L1880.0 242.9L1881.2 246.6L1882.4 242.4L1883.6 246.4L1884.8 242.4L1886.0 246.4L1887.2 242.6L1888.4 246.6L1889.6 242.9L1890.8 246.9L1892.0 242.9L1893.2 247.1L1894.4 242.9L1895.6 246.9L1896.8 242.9L1898.0 246.4L1899.2 242.1L1900.4 245.6L1901.6 241.4L1902.8 244.9L1904.0 240.6L1905.2 243.9L1906.4 239.9L1907.6 243.1L1908.8 239.1L1910.0 242.9L1911.2 238.9L1912.4 242.6L1913.6 238.9L1914.8 242.6L1916.0 238.6L1917.2 242.6L1918.4 238.6L1919.6 242.6L1920.8 238.4L1922.0 242.6L1923.2 238.4L1924.4 242.6L1925.6 238.4L1926.8 242.9L1928.0 238.4L1929.2 242.9L1930.4 238.4L1931.6 242.4L1932.8 238.4L1934.0 242.4L1935.2 238.4L1936.4 242.4L1937.6 238.6L1938.8 242.4L1940.0 238.9L1941.2 242.9L1942.4 238.9L1943.6 243.4L1944.8 238.9L1946.0 243.9L1947.2 239.1L1948.4 244.1L1949.6 239.4L1950.8 244.6L1952.0 239.4L1953.2 244.9L1954.4 239.4L1955.6 244.9L1956.8 239.6L1958.0 244.9L1959.2 239.6L1960.4 244.9L1961.6 239.9L1962.8 245.1L1964.0 239.9L1965.2 245.1L1966.4 240.1L1967.6 245.1L1968.8 240.1L1970.0 245.1L1971.2 240.4L1972.4 244.9L1973.6 240.4L1974.8 244.9L1976.0 240.4L1977.2 245.1L1978.4 240.6L1979.6 245.4L1980.8 240.9L1982.0 245.6L1983.2 240.9L1984.4 245.6L1985.6 241.1L1986.8 245.1L1988.0 241.4L1989.2 244.9L1990.4 241.6L1991.6 244.9L1992.8 241.6L1994.0 244.9L1995.2 241.6L1996.4 245.1L1997.6 241.1L1998.8 245.4L2000.0 241.6L2001.2 246.1L2002.4 242.6L2003.6 246.6L2004.8 243.4L2006.0 246.6L2007.2 243.4L2008.4 245.4L2009.6 242.6L2010.8 243.9L2012.0 241.6L2013.2 242.4L2014.4 240.4L2015.6 241.6L2016.8 239.1L2018.0 241.6L2019.2 239.1L2020.4 241.9L2021.6 239.4L2022.8 242.6L2024.0 239.4L2025.2 243.1L2026.4 239.6L2027.6 243.9L2028.8 239.9L2030.0 244.4L2031.2 239.9L2032.4 244.6L2033.6 239.6L2034.8 244.6L2036.0 239.6L2037.2 244.9L2038.4 239.6L2039.6 244.6L2040.8 239.6L2042.0 244.6L2043.2 239.6L2044.4 244.4L2045.6 239.6L2046.8 244.4L2048.0 239.9L2049.2 244.1L2050.4 240.4L2051.6 243.9L2052.8 240.6L2054.0 243.9L2055.2 240.9L2056.4 243.9L2057.6 240.6L2058.8 243.9L2060.0 240.1L2061.2 243.9L2062.4 239.6L2063.6 243.9L2064.8 239.4L2066.0 243.9L2067.2 239.9L2068.4 244.1L2069.6 240.1L2070.8 244.1L2072.0 240.4L2073.2 244.4L2074.4 240.4L2075.6 244.1L2076.8 240.4L2078.0 243.6L2079.2 240.1L2080.4 243.4L2081.6 239.9L2082.8 243.1L2084.0 239.6L2085.2 243.1L2086.4 239.4L2087.6 242.9L2088.8 238.6L2090.0 242.6L2091.2 238.4L2092.4 242.6L2093.6 238.1L2094.8 242.9L2096.0 237.9L2097.2 242.9L2098.4 237.6L2099.6 242.9L2100.8 237.4L2102.0 242.6L2103.2 237.6L2104.4 241.9L2105.6 237.9L2106.8 241.4L2108.0 237.9L2109.2 241.1L2110.4 237.6L2111.6 240.9L2112.8 237.4L2114.0 240.9L2115.2 236.6L2116.4 240.6L2117.6 236.1L2118.8 240.4L2120.0 236.1L2121.2 240.4L2122.4 236.6L2123.6 240.6L2124.8 237.1L2126.0 240.9L2127.2 237.4L2128.4 240.9L2129.6 237.9L2130.8 241.4L2132.0 238.4L2133.2 241.9L2134.4 238.6L2135.6 242.1L2136.8 238.9L2138.0 242.4L2139.2 238.9L2140.4 241.9L2141.6 238.4L2142.8 241.6L2144.0 238.1L2145.2 241.6L2146.4 237.9L2147.6 241.6L2148.8 237.9L2150.0 241.9L2151.2 237.6L2152.4 242.4L2153.6 237.4L2154.8 242.4L2156.0 237.4L2157.2 242.1L2158.4 237.1L2159.6 242.1L2160.8 236.9L2162.0 241.9L2163.2 236.6L2164.4 241.9L2165.6 236.6L2166.8 241.6L2168.0 236.4L2169.2 241.4L2170.4 236.1L2171.6 240.9L2172.8 235.9L2174.0 240.6L2175.2 235.6L2176.4 240.9L2177.6 236.1L2178.8 241.4L2180.0 236.6L2181.2 241.9L2182.4 237.1L2183.6 242.4L2184.8 237.4L2186.0 242.6L2187.2 237.6L2188.4 243.1L2189.6 238.1L2190.8 243.6L2192.0 239.1L2193.2 243.9L2194.4 239.6L2195.6 242.9L2196.8 239.6L2198.0 241.1L2199.2 238.6L2200.4 239.6L2201.6 237.4L2202.8 238.6L2204.0 235.6L2205.2 238.4L2206.4 235.1L2207.6 238.9L2208.8 235.9L2210.1 239.4L2211.3 236.6L2212.5 240.1L2213.7 237.1L2214.9 241.1L2216.1 237.9L2217.3 241.9L2218.5 238.1L2219.7 242.1L2220.9 238.4L2222.1 241.4L2223.3 237.4L2224.5 240.6L2225.7 236.4L2226.9 240.1L2228.1 235.9L2229.3 239.6L2230.5 235.4L2231.7 239.1L2232.9 234.9L2234.1 238.6L2235.3 234.4L2236.5 238.4L2237.7 234.4L2238.9 238.4L2240.1 234.9L2241.3 238.9L2242.5 235.1L2243.7 238.9L2244.9 235.1L2246.1 238.9L2247.3 234.6L2248.5 238.6L2249.7 234.1L2250.9 238.6L2252.1 233.4L2253.3 238.4L2254.5 233.1L2255.7 238.1L2256.9 233.4L2258.1 237.9L2259.3 233.6L2260.5 237.9L2261.7 233.9L2262.9 237.9L2264.1 234.1L2265.3 237.9L2266.5 234.4L2267.7 238.1L2268.9 234.9L2270.1 238.4L2271.3 234.9L2272.5 238.6L2273.7 234.9L2274.9 238.1L2276.1 234.4L2277.3 236.4L2278.5 233.9L2279.7 234.6L2280.9 232.1L2282.1 232.6L2283.3 229.9L2284.5 231.9L2285.7 228.4L2286.9 231.9L2288.1 230.1L2289.3 232.6L2290.5 232.1L2291.7 234.1L2292.9 233.9L2294.1 235.9L2295.3 235.4L2296.5 237.6L2297.7 235.6"/>
</g>
<g id="legend" fill="none" stroke-width="14.3" stroke-linecap="round">
<path stroke="#2e2e2e" d="M509.8 958.4H664.6"/>
<path stroke="#ff0000" d="M509.8 1102.3H664.6"/>
<path stroke="#0000ff" d="M509.8 1244.6H664.6"/>
</g>
<text><tspan x="697.2" y="988.6" font-size="99.5" textLength="60.2" lengthAdjust="spacingAndGlyphs">b</tspan><tspan x="757.5" y="988.6" font-size="96" textLength="45.8" lengthAdjust="spacingAndGlyphs">a</tspan><tspan x="809.9" y="988.6" font-size="96" textLength="38.6" lengthAdjust="spacingAndGlyphs">s</tspan><tspan x="849.2" y="988.6" font-size="96" textLength="51.9" lengthAdjust="spacingAndGlyphs">e</tspan><tspan x="902.5" y="988.6" font-size="101" textLength="22.9" lengthAdjust="spacingAndGlyphs">l</tspan><tspan x="928.4" y="988.6" font-size="96" textLength="22.2" lengthAdjust="spacingAndGlyphs">i</tspan><tspan x="952.5" y="988.6" font-size="96" textLength="56.1" lengthAdjust="spacingAndGlyphs">n</tspan><tspan x="1009.4" y="988.6" font-size="96" textLength="52.8" lengthAdjust="spacingAndGlyphs">e</tspan></text>
<text><tspan x="697.2" y="1132.5" font-size="96" textLength="46.8" lengthAdjust="spacingAndGlyphs">a</tspan><tspan x="749.7" y="1132.5" font-size="96" textLength="38.6" lengthAdjust="spacingAndGlyphs">s</tspan><tspan x="788.6" y="1132.5" font-size="96" textLength="34.2" lengthAdjust="spacingAndGlyphs">-</tspan><tspan x="823.2" y="1132.5" font-size="96" textLength="38.6" lengthAdjust="spacingAndGlyphs">s</tspan><tspan x="862.5" y="1132.5" font-size="96" textLength="61.3" lengthAdjust="spacingAndGlyphs">p</tspan><tspan x="922.7" y="1132.5" font-size="96" textLength="34.2" lengthAdjust="spacingAndGlyphs">r</tspan><tspan x="956.6" y="1132.5" font-size="96" textLength="46.8" lengthAdjust="spacingAndGlyphs">a</tspan><tspan x="1006.5" y="1132.5" font-size="96" textLength="49.6" lengthAdjust="spacingAndGlyphs">y</tspan><tspan x="1055.2" y="1132.5" font-size="96" textLength="52.7" lengthAdjust="spacingAndGlyphs">e</tspan><tspan x="1107.7" y="1132.5" font-size="99.5" textLength="59.5" lengthAdjust="spacingAndGlyphs">d</tspan><tspan> </tspan><tspan x="1188.9" y="1132.5" font-size="102" textLength="70.4" lengthAdjust="spacingAndGlyphs">G</tspan><tspan x="1256.3" y="1132.5" font-size="102" textLength="75.4" lengthAdjust="spacingAndGlyphs">O</tspan></text>
<text><tspan x="697.7" y="1275.7" font-size="96" textLength="33.4" lengthAdjust="spacingAndGlyphs">r</tspan><tspan x="730.7" y="1275.7" font-size="102" textLength="70.4" lengthAdjust="spacingAndGlyphs">G</tspan><tspan x="799.0" y="1275.7" font-size="102" textLength="74.4" lengthAdjust="spacingAndGlyphs">O</tspan><tspan> </tspan><tspan x="894.4" y="1275.7" font-size="96" textLength="34.2" lengthAdjust="spacingAndGlyphs">r</tspan><tspan x="928.0" y="1275.7" font-size="96" textLength="51.9" lengthAdjust="spacingAndGlyphs">e</tspan><tspan x="979.6" y="1275.7" font-size="99.5" textLength="60.3" lengthAdjust="spacingAndGlyphs">d</tspan><tspan x="1040.6" y="1275.7" font-size="96" textLength="57.3" lengthAdjust="spacingAndGlyphs">u</tspan><tspan x="1097.1" y="1275.7" font-size="96" textLength="46.4" lengthAdjust="spacingAndGlyphs">c</tspan><tspan x="1144.0" y="1275.7" font-size="96" textLength="52.3" lengthAdjust="spacingAndGlyphs">e</tspan><tspan x="1196.6" y="1275.7" font-size="99.5" textLength="59.9" lengthAdjust="spacingAndGlyphs">d</tspan><tspan> </tspan><tspan x="1278.9" y="1275.7" font-size="96" textLength="46.7" lengthAdjust="spacingAndGlyphs">a</tspan><tspan x="1329.3" y="1275.7" font-size="96" textLength="32.2" lengthAdjust="spacingAndGlyphs">t</tspan><tspan> </tspan><tspan x="1385.2" y="1275.7" font-size="99" textLength="55.7" lengthAdjust="spacingAndGlyphs">8</tspan><tspan x="1439.6" y="1275.7" font-size="99" textLength="54.8" lengthAdjust="spacingAndGlyphs">0</tspan><tspan x="1494.5" y="1275.7" font-size="99" textLength="53.8" lengthAdjust="spacingAndGlyphs">0</tspan><tspan> </tspan><tspan x="1557.3" y="1273.7" font-size="102" textLength="40.4" lengthAdjust="spacingAndGlyphs">°</tspan><tspan x="1593.7" y="1275.7" font-size="102" textLength="60.4" lengthAdjust="spacingAndGlyphs">C</tspan></text>
<g id="ylabels">
<text><tspan x="221.6" y="1369.6" font-size="99" textLength="106.2" lengthAdjust="spacingAndGlyphs">50</tspan></text>
<text><tspan x="221.6" y="1133.8" font-size="99" textLength="106.2" lengthAdjust="spacingAndGlyphs">60</tspan></text>
<text><tspan x="221.6" y="898.1" font-size="99" textLength="106.2" lengthAdjust="spacingAndGlyphs">70</tspan></text>
<text><tspan x="221.6" y="662.3" font-size="99" textLength="106.2" lengthAdjust="spacingAndGlyphs">80</tspan></text>
<text><tspan x="221.6" y="426.6" font-size="99" textLength="106.2" lengthAdjust="spacingAndGlyphs">90</tspan></text>
<text><tspan x="168.5" y="190.8" font-size="99" textLength="159.3" lengthAdjust="spacingAndGlyphs">100</tspan></text>
</g>
<g id="xlabels">
<text><tspan x="281.5" y="1573.5" font-size="99" textLength="159.3" lengthAdjust="spacingAndGlyphs">200</tspan></text>
<text><tspan x="604.2" y="1573.5" font-size="99" textLength="159.3" lengthAdjust="spacingAndGlyphs">300</tspan></text>
<text><tspan x="926.9" y="1573.5" font-size="99" textLength="159.3" lengthAdjust="spacingAndGlyphs">400</tspan></text>
<text><tspan x="1249.5" y="1573.5" font-size="99" textLength="159.3" lengthAdjust="spacingAndGlyphs">500</tspan></text>
<text><tspan x="1572.2" y="1573.5" font-size="99" textLength="159.3" lengthAdjust="spacingAndGlyphs">600</tspan></text>
<text><tspan x="1894.9" y="1573.5" font-size="99" textLength="159.3" lengthAdjust="spacingAndGlyphs">700</tspan></text>
<text><tspan x="2217.6" y="1573.5" font-size="99" textLength="159.3" lengthAdjust="spacingAndGlyphs">800</tspan></text>
</g>
<text id="xtitle"><tspan x="953.4" y="1713.0" font-size="100.5" textLength="86.7" lengthAdjust="spacingAndGlyphs">W</tspan><tspan x="1037.8" y="1713.0" font-size="96" textLength="47.1" lengthAdjust="spacingAndGlyphs">a</tspan><tspan x="1088.0" y="1713.0" font-size="96" textLength="48.8" lengthAdjust="spacingAndGlyphs">v</tspan><tspan x="1137.9" y="1713.0" font-size="96" textLength="51.9" lengthAdjust="spacingAndGlyphs">e</tspan><tspan x="1191.0" y="1713.0" font-size="101" textLength="22.0" lengthAdjust="spacingAndGlyphs">l</tspan><tspan x="1213.9" y="1713.0" font-size="96" textLength="52.9" lengthAdjust="spacingAndGlyphs">e</tspan><tspan x="1268.6" y="1713.0" font-size="96" textLength="57.3" lengthAdjust="spacingAndGlyphs">n</tspan><tspan x="1324.1" y="1713.0" font-size="96" textLength="59.3" lengthAdjust="spacingAndGlyphs">g</tspan><tspan x="1384.5" y="1713.0" font-size="96" textLength="32.6" lengthAdjust="spacingAndGlyphs">t</tspan><tspan x="1419.8" y="1713.0" font-size="99.5" textLength="57.3" lengthAdjust="spacingAndGlyphs">h</tspan><tspan> </tspan><tspan x="1501.4" y="1706.4" font-size="91.8" textLength="26.6" lengthAdjust="spacingAndGlyphs">(</tspan><tspan x="1531.6" y="1713.0" font-size="96" textLength="56.0" lengthAdjust="spacingAndGlyphs">n</tspan><tspan x="1588.7" y="1713.0" font-size="96" textLength="87.9" lengthAdjust="spacingAndGlyphs">m</tspan><tspan x="1678.4" y="1706.4" font-size="91.8" textLength="25.8" lengthAdjust="spacingAndGlyphs">)</tspan></text>
<text id="ytitle" transform="translate(103.8 0) rotate(-90)"><tspan x="-1145.1" y="0.0" font-size="100.5" textLength="56.9" lengthAdjust="spacingAndGlyphs">T</tspan><tspan x="-1093.0" y="0.0" font-size="96" textLength="32.0" lengthAdjust="spacingAndGlyphs">r</tspan><tspan x="-1061.6" y="0.0" font-size="96" textLength="46.9" lengthAdjust="spacingAndGlyphs">a</tspan><tspan x="-1009.1" y="0.0" font-size="96" textLength="56.0" lengthAdjust="spacingAndGlyphs">n</tspan><tspan x="-950.1" y="0.0" font-size="96" textLength="37.6" lengthAdjust="spacingAndGlyphs">s</tspan><tspan x="-909.6" y="0.0" font-size="96" textLength="85.5" lengthAdjust="spacingAndGlyphs">m</tspan><tspan x="-822.3" y="0.0" font-size="96" textLength="22.2" lengthAdjust="spacingAndGlyphs">i</tspan><tspan x="-797.9" y="0.0" font-size="96" textLength="31.5" lengthAdjust="spacingAndGlyphs">t</tspan><tspan x="-762.7" y="0.0" font-size="96" textLength="31.4" lengthAdjust="spacingAndGlyphs">t</tspan><tspan x="-728.5" y="0.0" font-size="96" textLength="46.9" lengthAdjust="spacingAndGlyphs">a</tspan><tspan x="-677.0" y="0.0" font-size="96" textLength="57.0" lengthAdjust="spacingAndGlyphs">n</tspan><tspan x="-618.5" y="0.0" font-size="96" textLength="46.0" lengthAdjust="spacingAndGlyphs">c</tspan><tspan x="-572.9" y="0.0" font-size="96" textLength="52.7" lengthAdjust="spacingAndGlyphs">e</tspan><tspan> </tspan><tspan x="-495.0" y="-6.6" font-size="91.8" textLength="24.6" lengthAdjust="spacingAndGlyphs">(</tspan><tspan x="-468.6" y="0.0" font-size="102" textLength="83.4" lengthAdjust="spacingAndGlyphs">%</tspan><tspan x="-383.1" y="-6.6" font-size="91.8" textLength="25.2" lengthAdjust="spacingAndGlyphs">)</tspan></text>
</g>
</svg>
</body></html>
